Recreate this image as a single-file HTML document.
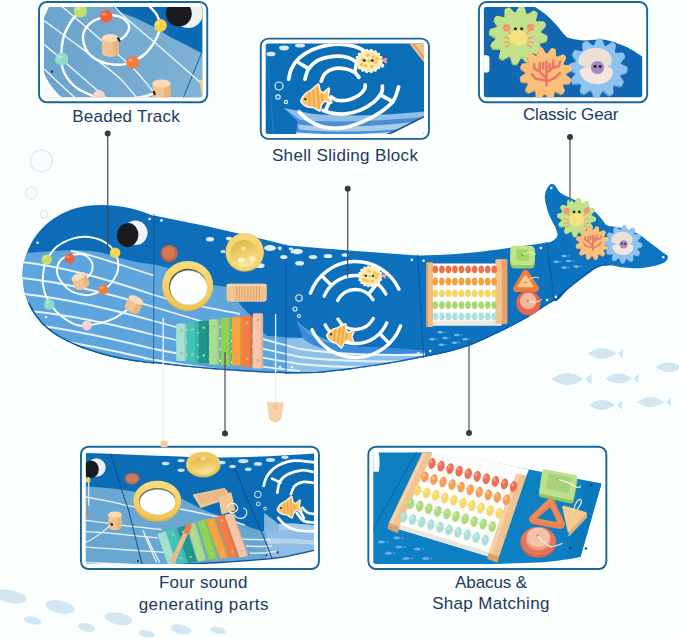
<!DOCTYPE html>
<html><head><meta charset="utf-8"><title>Whale Busy Board</title>
<style>
html,body{margin:0;padding:0;background:#fafefd;}
body{width:679px;height:638px;position:relative;overflow:hidden;font-family:"Liberation Sans",sans-serif;}
svg{position:absolute;left:0;top:0;display:block}
.lbl{position:absolute;color:#22395c;font-size:17px;line-height:22px;text-align:center;white-space:nowrap;transform:translateX(-50%);}
</style></head><body>
<svg width="679" height="638" viewBox="0 0 679 638">
<defs>
<linearGradient id="gbell" x1="0.3" y1="0" x2="0.6" y2="1"><stop offset="0" stop-color="#e0b54c"/><stop offset=".5" stop-color="#eecb66"/><stop offset="1" stop-color="#fcedaa"/></linearGradient>
<linearGradient id="gwhale" gradientUnits="userSpaceOnUse" x1="20" y1="0" x2="670" y2="0"><stop offset="0" stop-color="#0d6bb6"/><stop offset=".45" stop-color="#0e70bd"/><stop offset="1" stop-color="#0c75c1"/></linearGradient>
<linearGradient id="gb1" gradientUnits="userSpaceOnUse" x1="44" y1="0" x2="204" y2="0"><stop offset="0" stop-color="#6ca4cd"/><stop offset="1" stop-color="#7db1d5"/></linearGradient>
<linearGradient id="gring" x1="0" y1="0" x2="0" y2="1"><stop offset="0" stop-color="#f9dd7e"/><stop offset="1" stop-color="#efc552"/></linearGradient>

<clipPath id="cb1"><rect x="44.00" y="6.96" width="158.30" height="90.30" rx="2"/></clipPath>
<clipPath id="cb2"><rect x="265.70" y="43.60" width="158.30" height="90.30" rx="2"/></clipPath>
<clipPath id="cb3"><rect x="483.90" y="6.96" width="158.30" height="90.30" rx="2"/></clipPath>
<clipPath id="cb4"><rect x="85.90" y="451.70" width="228.10" height="112.30" rx="2"/></clipPath>
<clipPath id="cb5"><rect x="373.30" y="451.70" width="228.10" height="112.30" rx="2"/></clipPath>
<clipPath id="cb4body"><path d="M80,453 C130,454 180,457.5 222,457.6 C255,457.3 290,455 320,453 L320,549 C310,551.3 298,554.3 285,556.8 C270,559 250,560.6 220,562.5 L150,566 L80,568 Z"/></clipPath>
<clipPath id="cwhale"><path d="M154.2,216.0 C151.6,215.1 144.2,212.1 138.7,210.5 C133.2,208.9 126.9,207.4 121.0,206.5 C115.1,205.6 109.3,205.0 103.4,204.9 C97.5,204.8 91.6,205.0 85.7,206.0 C79.8,207.0 73.5,208.7 68.0,210.9 C62.5,213.1 57.4,215.9 52.6,219.3 C47.8,222.7 43.0,227.2 39.3,231.4 C35.6,235.6 32.9,240.1 30.5,244.7 C28.1,249.3 26.2,254.5 24.9,259.1 C23.6,263.7 22.9,267.5 22.7,272.3 C22.5,277.1 22.9,282.7 23.8,287.8 C24.7,292.9 26.3,298.4 28.3,303.2 C30.3,308.0 33.1,312.4 36.0,316.5 C38.9,320.6 41.9,324.0 45.9,327.5 C49.9,331.0 55.1,334.6 60.0,337.5 C64.8,340.4 70.3,342.9 75.0,345.0 C79.7,347.1 82.2,348.1 88.0,350.0 C93.8,351.9 103.0,354.8 110.0,356.5 C117.0,358.2 122.7,359.3 130.0,360.5 C137.3,361.7 149.7,363.0 153.6,363.5Z"/><path d="M154,215.5 Q220,228 286,245 L286,373.2 Q222,371.5 153.6,363 Z"/><path d="M286,245.3 Q350,251 417.7,255.4 L423.6,357 C405,361 361,369 317,373 L286,373.4 Z"/><path d="M417.7,255.6 C422.6,255.4 436.3,255.2 447.1,254.5 C457.9,253.8 470.7,252.7 482.5,251.4 C494.3,250.1 507.2,248.1 517.8,246.7 C528.4,245.2 541.4,243.4 546.1,242.7 L550.8,272 L554.2,300.6 C552.4,301.7 547.3,304.7 543.6,307.1 C539.9,309.5 535.7,312.4 531.8,314.8 C527.9,317.2 526.2,318.5 520.0,321.8 C513.8,325.1 502.5,330.7 494.3,334.6 C486.1,338.5 478.6,342.3 470.7,345.2 C462.8,348.1 455.0,350.2 447.1,352.2 C439.2,354.2 427.5,356.2 423.6,357.0Z"/><path d="M546.1,242.7 C547.1,242.5 550.1,242.5 552.0,241.3 C553.9,240.2 556.9,238.2 557.4,235.8 C557.9,233.4 556.7,230.7 555.2,227.0 C553.8,223.3 550.4,218.7 548.7,213.9 C547.0,209.2 545.3,202.5 544.9,198.5 C544.5,194.5 545.5,192.1 546.5,189.7 C547.5,187.3 549.4,185.0 550.8,184.3 C552.2,183.6 553.4,184.1 555.0,185.5 C556.6,186.9 557.6,190.7 560.7,193.0 C563.9,195.3 569.5,197.4 573.9,199.6 C578.3,201.8 583.4,204.0 587.0,206.2 C590.6,208.3 593.3,210.3 595.8,212.5 C598.3,214.7 600.0,217.3 601.9,219.4 C603.8,221.5 604.8,224.0 607.0,225.2 C609.2,226.4 611.8,226.1 615.0,226.7 C618.2,227.3 622.1,227.8 626.0,229.0 C629.9,230.2 634.3,231.7 638.3,234.0 C642.3,236.3 646.1,239.8 650.0,242.7 C653.9,245.6 658.7,249.2 661.6,251.4 C664.5,253.6 666.6,254.3 667.5,255.8 C668.4,257.3 667.7,258.9 666.7,260.2 C665.7,261.5 664.4,262.7 661.6,263.8 C658.8,264.9 653.9,266.1 650.0,266.8 C646.1,267.5 642.7,268.1 638.3,268.2 C633.9,268.3 628.6,268.0 623.7,267.5 C618.9,267.0 613.6,265.3 609.2,265.3 C604.8,265.3 600.9,266.2 597.5,267.5 C594.1,268.8 591.8,271.1 588.7,273.3 C585.6,275.5 582.5,277.8 578.9,280.6 C575.3,283.4 571.2,286.7 567.1,290.0 C563.0,293.3 556.9,303.6 554.2,300.6 C551.5,297.6 551.4,276.8 550.8,272.0Z"/></clipPath>
</defs>
<g id="bgdeco">
<circle cx="41.4" cy="160.9" r="11" fill="#f8fcfe" stroke="#dde9f0" stroke-width="1.2"/>
<ellipse cx="37.5" cy="157.1" rx="3.3" ry="2.2" fill="#fff"/>
<circle cx="31.2" cy="193" r="5.8" fill="#f8fcfe" stroke="#dde9f0" stroke-width="1.2"/>
<ellipse cx="29.2" cy="191.0" rx="1.7" ry="1.2" fill="#fff"/>
<circle cx="44.2" cy="214.7" r="3.8" fill="#f8fcfe" stroke="#dde9f0" stroke-width="1.2"/>
<ellipse cx="42.9" cy="213.4" rx="1.1" ry="0.8" fill="#fff"/>
<path d="M588.0,353.5 Q602.0,342.9 616.0,353.5 Q602.0,364.1 588.0,353.5Z M617.8,353.5 L623.0,348.4 L623.0,358.6Z" fill="#d2e6f0" opacity="1"/>
<path d="M551.5,379.1 Q567.5,366.9 583.5,379.1 Q567.5,391.3 551.5,379.1Z M585.5,379.1 L591.5,373.3 L591.5,384.9Z" fill="#d2e6f0" opacity="1"/>
<path d="M605.5,378.5 Q618.7,368.5 631.9,378.5 Q618.7,388.5 605.5,378.5Z M633.5,378.5 L638.5,373.7 L638.5,383.3Z" fill="#d2e6f0" opacity="1"/>
<path d="M656.0,367.3 Q669.2,357.3 682.4,367.3 Q669.2,377.3 656.0,367.3Z M684.0,367.3 L689.0,362.5 L689.0,372.1Z" fill="#d2e6f0" opacity="1"/>
<path d="M589.0,405.1 Q602.2,395.1 615.4,405.1 Q602.2,415.1 589.0,405.1Z M617.0,405.1 L622.0,400.3 L622.0,409.9Z" fill="#d2e6f0" opacity="1"/>
<path d="M637.0,402.1 Q650.6,391.8 664.2,402.1 Q650.6,412.4 637.0,402.1Z M665.9,402.1 L671.0,397.2 L671.0,407.0Z" fill="#d2e6f0" opacity="1"/>
<ellipse cx="10.6" cy="596.4" rx="16" ry="6.4" fill="#d3e7f2" transform="rotate(12 10.6 596.4)"/>
<ellipse cx="60.1" cy="607" rx="14.8" ry="6.4" fill="#d3e7f2" transform="rotate(12 60.1 607)"/>
<ellipse cx="32.5" cy="620.4" rx="8.8" ry="3.9" fill="#d3e7f2" transform="rotate(12 32.5 620.4)"/>
<ellipse cx="118.4" cy="618.7" rx="14" ry="6" fill="#d3e7f2" transform="rotate(12 118.4 618.7)"/>
<ellipse cx="86.6" cy="627.5" rx="8.8" ry="4.2" fill="#d3e7f2" transform="rotate(12 86.6 627.5)"/>
<ellipse cx="146.7" cy="633.9" rx="7.8" ry="3.5" fill="#d3e7f2" transform="rotate(12 146.7 633.9)"/>
<ellipse cx="181" cy="629.3" rx="10.6" ry="4.6" fill="#d3e7f2" transform="rotate(12 181 629.3)"/>
<ellipse cx="218.1" cy="630.3" rx="7.8" ry="3.5" fill="#d3e7f2" transform="rotate(12 218.1 630.3)"/>
</g>
<g id="whale">
<g clip-path="url(#cwhale)">
<rect x="15" y="175" width="660" height="210" fill="url(#gwhale)"/>
<path d="M15,254 C30,252 48,251.3 70.2,250.2 C80,250 95,251 103.4,252.9 C110,255 125,260 138.7,262.4 L154,264.6 C175,268 195,281 212,285 L228,287 C232,295 240,305 254,319 C258,326 262,333 268,336 L303,338 L297,321 C310,334 330,343 350,346 C380,348 400,348 425,351 L425,395 L15,395 Z" fill="#5ea5de"/>
<path d="M286,339 L303,338 C313,349 341,354 377,355 L425,352.5 L425,395 L286,395Z" fill="#8ec0ea"/>
<path d="M297,321 C304,329 308,333 313,336.6 C322,341 330,343.5 341.4,345.4 C355,347 365,347 376.7,347.2 C395,348 410,349.5 425,351 L425,352.5 L377,355 C341,354 313,349 303,338 Z" fill="#3a8ad6"/>
<path d="M71,251 C91,254 108,261 154,275.6" fill="none" stroke="#eaf3fb" stroke-width="1.8"/>
<path d="M22,262 C60,266 104,278 154,295 C180,303 200,306 240,314" fill="none" stroke="#eaf3fb" stroke-width="1.8"/>
<path d="M22,278 C60,282 104,292 154,307 C200,321 250,336 300,349 C340,355 380,355 425,355" fill="none" stroke="#eaf3fb" stroke-width="1.8"/>
<path d="M24,294 C60,298 104,307 154,321 C200,334 250,346 300,357 C340,362 380,362 425,361" fill="none" stroke="#eaf3fb" stroke-width="1.8"/>
<path d="M30,311 C60,314 104,322 154,335 C200,346 250,356 300,364 C340,368 380,368 425,366" fill="none" stroke="#eaf3fb" stroke-width="1.8"/>
<path d="M42,326 C70,330 110,338 154,349 C200,358 250,366 300,371" fill="none" stroke="#eaf3fb" stroke-width="1.8"/>
<path d="M68,342 C95,347 125,353 154,360 C200,368 250,373 290,375" fill="none" stroke="#eaf3fb" stroke-width="1.8"/>
<path d="M28.3,303.2 C29.6,305.4 33.1,312.4 36.0,316.5 C38.9,320.6 41.9,324.0 45.9,327.5 C49.9,331.0 55.1,334.6 60.0,337.5 C64.8,340.4 70.3,342.9 75.0,345.0 C79.7,347.1 82.2,348.1 88.0,350.0 C93.8,351.9 103.0,354.8 110.0,356.5 C117.0,358.2 122.7,359.3 130.0,360.5 C137.3,361.7 149.7,363.0 153.6,363.5 M153.6,363 Q222,371.5 286,373.2 M286,373.4 L317,373 C361,369 405,361 423.6,357 M423.6,357.0 C427.5,356.2 439.2,354.2 447.1,352.2 C455.0,350.2 462.8,348.1 470.7,345.2 C478.6,342.3 486.1,338.5 494.3,334.6 C502.5,330.7 513.8,325.1 520.0,321.8 C526.2,318.5 527.9,317.2 531.8,314.8 C535.7,312.4 539.9,309.5 543.6,307.1 C547.3,304.7 552.4,301.7 554.2,300.6 M554.2,300.6 C556.4,298.8 563.0,293.3 567.1,290.0 C571.2,286.7 575.3,283.4 578.9,280.6 C582.5,277.8 585.6,275.5 588.7,273.3 C591.8,271.1 594.1,268.8 597.5,267.5 C600.9,266.2 607.2,265.7 609.2,265.3" fill="none" stroke="#0c55a0" stroke-width="2.6"/>
</g>
<path d="M154,214 L153.6,364" stroke="#0b4c96" stroke-width="1" fill="none" opacity=".7"/>
<path d="M286,244 L286,374" stroke="#0b4c96" stroke-width="1" fill="none" opacity=".7"/>
<path d="M417.7,254.5 L423.6,358" stroke="#0b4c96" stroke-width="1" fill="none" opacity=".7"/>
<path d="M546.1,242 L550.8,272 L554,300.5" stroke="#0b4c96" stroke-width="1" fill="none" opacity=".7"/>
<circle cx="37.6" cy="242.7" r="1.3" fill="#e8f2fb"/>
<circle cx="46" cy="317" r="1.3" fill="#e8f2fb"/>
<circle cx="149.6" cy="219" r="1.3" fill="#e8f2fb"/>
<circle cx="145.5" cy="358.4" r="1.3" fill="#e8f2fb"/>
<circle cx="161.5" cy="220.4" r="1.3" fill="#e8f2fb"/>
<circle cx="157.4" cy="360.3" r="1.3" fill="#e8f2fb"/>
<circle cx="280" cy="249" r="1.3" fill="#e8f2fb"/>
<circle cx="280" cy="367" r="1.3" fill="#e8f2fb"/>
<circle cx="292" cy="252" r="1.3" fill="#e8f2fb"/>
<circle cx="292" cy="367" r="1.3" fill="#e8f2fb"/>
<circle cx="411.8" cy="259.9" r="1.3" fill="#e8f2fb"/>
<circle cx="418.4" cy="353.4" r="1.3" fill="#e8f2fb"/>
<circle cx="423.6" cy="260.8" r="1.3" fill="#e8f2fb"/>
<circle cx="430.2" cy="351.1" r="1.3" fill="#e8f2fb"/>
<circle cx="540.9" cy="248.1" r="1.3" fill="#e8f2fb"/>
<circle cx="547.1" cy="300" r="1.3" fill="#e8f2fb"/>
<circle cx="555.9" cy="296.9" r="1.3" fill="#e8f2fb"/>
<circle cx="551.3" cy="188" r="1.3" fill="#e8f2fb"/>
<circle cx="663.2" cy="257.3" r="1.3" fill="#e8f2fb"/>
<circle cx="135.4" cy="232.8" r="12.2" fill="#f1f4f7"/>
<ellipse cx="127.6" cy="235" rx="10.7" ry="12" fill="#1b1a1e" transform="rotate(8 127.6 235)"/>
<path d="M133.9,304.5 C130.5,306.9 121.3,315.1 113.5,318.6 C105.7,322.1 93.7,324.7 86.9,325.5 C80.1,326.3 77.7,325.5 72.7,323.3 C67.7,321.1 61.2,316.2 57.0,312.3 C52.8,308.4 50.0,304.5 47.6,299.8 C45.2,295.1 43.5,289.3 42.9,284.1 C42.3,278.9 43.3,272.5 43.9,268.4 C44.5,264.3 44.5,263.2 46.7,259.6 C48.9,256.0 52.7,250.0 57.0,246.5 C61.3,243.0 67.5,240.2 72.7,238.6 C77.9,237.0 83.2,236.5 88.4,237.0 C93.6,237.5 99.6,239.2 104.1,241.8 C108.5,244.4 112.8,248.3 115.1,252.7 C117.4,257.1 118.7,263.4 118.2,268.4 C117.7,273.4 114.4,278.9 111.9,282.5 C109.4,286.1 107.1,287.6 103.2,289.7 C99.3,291.8 93.5,294.7 88.4,295.1 C83.3,295.5 77.1,294.0 72.7,291.9 C68.3,289.8 64.4,285.9 61.8,282.5 C59.2,279.1 57.3,275.2 57.0,271.6 C56.7,268.0 58.1,263.3 60.2,260.6 C62.3,257.9 65.9,256.6 69.6,255.6 C73.2,254.5 78.5,253.5 82.1,254.3 C85.6,255.1 89.2,258.0 90.9,260.6 C92.6,263.2 92.9,267.1 92.2,270.0 C91.5,272.9 88.7,276.0 86.8,277.8 C84.9,279.6 81.6,280.5 80.6,281.0" fill="none" stroke="#fff" stroke-width="1.9" stroke-linecap="round"/>
<circle cx="46.7" cy="259.6" r="5.3" fill="#c6dc68"/><ellipse cx="45.1" cy="257.7" rx="2.0" ry="1.4" fill="#fff" opacity=".3"/>
<circle cx="69.6" cy="258.5" r="5" fill="#f0613b"/><ellipse cx="68.1" cy="256.8" rx="1.9" ry="1.3" fill="#fff" opacity=".3"/>
<circle cx="115.1" cy="252.7" r="5.3" fill="#f8d24a"/><ellipse cx="113.5" cy="250.8" rx="2.0" ry="1.4" fill="#fff" opacity=".3"/>
<circle cx="103.2" cy="289.7" r="5" fill="#f47b3c"/><ellipse cx="101.7" cy="287.9" rx="1.9" ry="1.3" fill="#fff" opacity=".3"/>
<circle cx="49.2" cy="304.5" r="5.3" fill="#8edcc8"/><ellipse cx="47.6" cy="302.6" rx="2.0" ry="1.4" fill="#fff" opacity=".3"/>
<circle cx="86.9" cy="325.5" r="5" fill="#f8cfcf"/><ellipse cx="85.4" cy="323.8" rx="1.9" ry="1.3" fill="#fff" opacity=".3"/>
<g transform="rotate(-25 80.6 281)"><path d="M73.1,276.0 V286.0 A7.5,3.5 0 0 0 88.1,286.0 V276.0 Z" fill="#f1c391"/><path d="M82.8,276.0 V289.1 A7.5,3.5 0 0 0 88.1,286.0 V276.0 Z" fill="#dba36c" opacity=".45"/><ellipse cx="80.6" cy="276.0" rx="7.5" ry="3.5" fill="#f8dcb8"/></g>
<g transform="rotate(25 134 304.5)"><path d="M126.2,299.5 V309.5 A7.8,3.6 0 0 0 141.8,309.5 V299.5 Z" fill="#f1c391"/><path d="M136.3,299.5 V312.7 A7.8,3.6 0 0 0 141.8,309.5 V299.5 Z" fill="#dba36c" opacity=".45"/><ellipse cx="134.0" cy="299.5" rx="7.8" ry="3.6" fill="#f8dcb8"/></g>
<circle cx="169.3" cy="253.3" r="8.6" fill="#c0643f"/><circle cx="168.8" cy="252.8" r="6.4" fill="#cf7a55"/>
<ellipse cx="187.7" cy="286.2" rx="25.4" ry="24.7" fill="#e6b945"/><ellipse cx="187.7" cy="285.2" rx="25.4" ry="24.2" fill="url(#gring)"/>
<ellipse cx="188" cy="286.6" rx="19" ry="17.8" fill="#5f5a40"/><ellipse cx="188.6" cy="287.6" rx="18.6" ry="17.2" fill="#fdfefe"/>
<ellipse cx="210" cy="239.3" rx="4" ry="2.2" fill="#e1effa"/>
<ellipse cx="229" cy="238.6" rx="3.2" ry="1.8" fill="#e1effa"/>
<ellipse cx="223" cy="251.5" rx="2.6" ry="1.6" fill="#e1effa"/>
<ellipse cx="270" cy="248" rx="6" ry="2.9" fill="#e1effa"/>
<ellipse cx="279.6" cy="248" rx="2" ry="1.4" fill="#e1effa"/>
<ellipse cx="283.8" cy="257" rx="3.6" ry="2" fill="#e1effa"/>
<ellipse cx="259.6" cy="265.7" rx="5" ry="2.4" fill="#e1effa"/>
<ellipse cx="297.3" cy="251.5" rx="5.5" ry="2.7" fill="#e1effa"/>
<ellipse cx="291" cy="249" rx="2.2" ry="1.4" fill="#e1effa"/>
<ellipse cx="299.6" cy="263.3" rx="4.4" ry="2.3" fill="#e1effa"/>
<ellipse cx="313" cy="257" rx="4.2" ry="2.1" fill="#e1effa"/>
<ellipse cx="328" cy="256" rx="4.4" ry="2.1" fill="#e1effa"/>
<ellipse cx="345" cy="255" rx="3.4" ry="1.8" fill="#e1effa"/>
<circle cx="244.7" cy="252.4" r="19.2" fill="#ecc458"/><circle cx="244.7" cy="251.8" r="18.6" fill="#f6d574"/><circle cx="244" cy="253.5" r="13.6" fill="url(#gbell)"/><ellipse cx="241.5" cy="260" rx="3.4" ry="2.6" fill="#fff6c8" opacity=".9"/><ellipse cx="252" cy="259" rx="3" ry="2.4" fill="#fff6c8" opacity=".8"/><circle cx="243.2" cy="248.8" r="2.5" fill="#f7df8c"/>
<rect x="226.5" y="283.8" width="40.3" height="18" rx="3.5" fill="#f1c391"/><rect x="226.5" y="283.8" width="40.3" height="3" rx="1.5" fill="#f8dcb8" opacity=".7"/>
<path d="M236.3,285.5 V300.5" stroke="#dba36c" stroke-width="1"/>
<path d="M239.2,285.5 V300.5" stroke="#dba36c" stroke-width="1"/>
<path d="M242.1,285.5 V300.5" stroke="#dba36c" stroke-width="1"/>
<path d="M245.0,285.5 V300.5" stroke="#dba36c" stroke-width="1"/>
<path d="M247.9,285.5 V300.5" stroke="#dba36c" stroke-width="1"/>
<path d="M250.8,285.5 V300.5" stroke="#dba36c" stroke-width="1"/>
<path d="M253.7,285.5 V300.5" stroke="#dba36c" stroke-width="1"/>
<path d="M256.6,285.5 V300.5" stroke="#dba36c" stroke-width="1"/>
<path d="M259.5,285.5 V300.5" stroke="#dba36c" stroke-width="1"/>
<rect x="176.2" y="323.6" width="10.3" height="37.4" rx="1.5" fill="#a4e2d0"/>
<rect x="184.3" y="323.6" width="2.2" height="37.4" rx="1" fill="#000" opacity=".09"/>
<circle cx="181.3" cy="330.6" r="1.4" fill="#c2b39c"/><circle cx="181.3" cy="353.0" r="1.4" fill="#c2b39c"/>
<rect x="187.2" y="322.2" width="10.3" height="40.2" rx="1.5" fill="#3cc6b6"/>
<rect x="195.3" y="322.2" width="2.2" height="40.2" rx="1" fill="#000" opacity=".09"/>
<circle cx="192.3" cy="329.2" r="1.4" fill="#c2b39c"/><circle cx="192.3" cy="354.4" r="1.4" fill="#c2b39c"/>
<rect x="198.5" y="320.7" width="10.3" height="42.6" rx="1.5" fill="#1b9a8b"/>
<rect x="206.60000000000002" y="320.7" width="2.2" height="42.6" rx="1" fill="#000" opacity=".09"/>
<circle cx="203.7" cy="327.7" r="1.4" fill="#c2b39c"/><circle cx="203.7" cy="355.3" r="1.4" fill="#c2b39c"/>
<rect x="209.3" y="319.2" width="10.3" height="45.3" rx="1.5" fill="#a7dd8f"/>
<rect x="217.40000000000003" y="319.2" width="2.2" height="45.3" rx="1" fill="#000" opacity=".09"/>
<circle cx="214.5" cy="326.2" r="1.4" fill="#c2b39c"/><circle cx="214.5" cy="356.5" r="1.4" fill="#c2b39c"/>
<rect x="220.9" y="317.7" width="10.3" height="47.7" rx="1.5" fill="#8fd250"/>
<rect x="229.00000000000003" y="317.7" width="2.2" height="47.7" rx="1" fill="#000" opacity=".09"/>
<circle cx="226.1" cy="324.7" r="1.4" fill="#c2b39c"/><circle cx="226.1" cy="357.4" r="1.4" fill="#c2b39c"/>
<rect x="232" y="316.8" width="10.3" height="48.6" rx="1.5" fill="#f8a33c"/>
<rect x="240.10000000000002" y="316.8" width="2.2" height="48.6" rx="1" fill="#000" opacity=".09"/>
<circle cx="237.2" cy="323.8" r="1.4" fill="#c2b39c"/><circle cx="237.2" cy="357.4" r="1.4" fill="#c2b39c"/>
<rect x="242" y="315.6" width="10.3" height="51.3" rx="1.5" fill="#f57c45"/>
<rect x="250.10000000000002" y="315.6" width="2.2" height="51.3" rx="1" fill="#000" opacity=".09"/>
<circle cx="247.2" cy="322.6" r="1.4" fill="#c2b39c"/><circle cx="247.2" cy="358.9" r="1.4" fill="#c2b39c"/>
<rect x="252.8" y="313.2" width="10.3" height="55.2" rx="1.5" fill="#f8c6a6"/>
<rect x="260.90000000000003" y="313.2" width="2.2" height="55.2" rx="1" fill="#000" opacity=".09"/>
<circle cx="257.9" cy="320.2" r="1.4" fill="#c2b39c"/><circle cx="257.9" cy="360.4" r="1.4" fill="#c2b39c"/>
<circle cx="299" cy="298" r="3.2" fill="none" stroke="#e6f1fb" stroke-width="1.1"/>
<circle cx="295" cy="309" r="2" fill="none" stroke="#e6f1fb" stroke-width="1.1"/>
<circle cx="299" cy="316" r="1.5" fill="none" stroke="#e6f1fb" stroke-width="1.1"/>
<g fill="none" stroke="#fff" stroke-width="3.4" stroke-linecap="round" ><path d="M310.4,293.1 A48.0,48.0 0 0 1 399.0,289.2 M324.2,296.2 A34.0,34.0 0 0 1 385.8,294.1 M337.7,300.4 A20.0,20.0 0 0 1 373.0,299.8 M331.5,285.5 L321.6,275.6 M368.4,294.2 L377.4,283.5"/><path d="M310.4,293.1 A48.0,48.0 0 0 1 399.0,289.2 M324.2,296.2 A34.0,34.0 0 0 1 385.8,294.1 M337.7,300.4 A20.0,20.0 0 0 1 373.0,299.8 M331.5,285.5 L321.6,275.6 M368.4,294.2 L377.4,283.5" transform="rotate(180 355.5 309.5)"/></g>
<g transform="translate(370.2,276.4) scale(1.05,0.92)"><polygon points="9.9,-1.2 11.3,-0.4 11.3,0.4 9.9,1.2 9.7,2.2 10.7,3.5 10.5,4.2 8.8,4.5 8.4,5.4 8.9,7.0 8.4,7.5 6.8,7.3 6.0,7.9 6.0,9.6 5.3,10.0 3.9,9.2 2.9,9.5 2.3,11.1 1.6,11.2 0.5,9.9 -0.5,9.9 -1.6,11.2 -2.3,11.1 -2.9,9.5 -3.9,9.2 -5.3,10.0 -6.0,9.6 -6.0,7.9 -6.8,7.3 -8.4,7.5 -8.9,7.0 -8.4,5.4 -8.8,4.5 -10.5,4.2 -10.7,3.5 -9.7,2.2 -9.9,1.2 -11.3,0.4 -11.3,-0.4 -9.9,-1.2 -9.7,-2.2 -10.7,-3.5 -10.5,-4.2 -8.8,-4.5 -8.4,-5.4 -8.9,-7.0 -8.4,-7.5 -6.8,-7.3 -6.0,-7.9 -6.0,-9.6 -5.3,-10.0 -3.9,-9.2 -2.9,-9.5 -2.3,-11.1 -1.6,-11.2 -0.5,-9.9 0.5,-9.9 1.6,-11.2 2.3,-11.1 2.9,-9.5 3.9,-9.2 5.3,-10.0 6.0,-9.6 6.0,-7.9 6.8,-7.3 8.4,-7.5 8.9,-7.0 8.4,-5.4 8.8,-4.5 10.5,-4.2 10.7,-3.5 9.7,-2.2" fill="#fdf6dc" stroke="#fdf6dc" stroke-width="1.4" stroke-linejoin="round" /><path d="M9.6,-2 L15.3,-3.5 L14.7,3 Z" fill="#f3a08c"/><circle cx="0" cy="0" r="9.9" fill="#fcecb4"/><circle cx="-1.1" cy="-5.7" r="1.7" fill="#f6c34f"/><circle cx="4.0" cy="-4.0" r="1.7" fill="#f6c34f"/><circle cx="5.7" cy="1.1" r="1.7" fill="#f6c34f"/><circle cx="-5.1" cy="-1.1" r="1.7" fill="#f6c34f"/><circle cx="2.3" cy="5.1" r="1.7" fill="#f6c34f"/><circle cx="-2.8" cy="4.5" r="1.7" fill="#f6c34f"/><circle cx="0.0" cy="0.0" r="1.7" fill="#f6c34f"/><circle cx="6.8" cy="-2.3" r="1.7" fill="#f6c34f"/><circle cx="-6.2" cy="3.4" r="1.7" fill="#f6c34f"/><circle cx="-4.0" cy="-0.6" r="1.2" fill="#2a2a2a"/><circle cx="2.8" cy="-0.6" r="1.2" fill="#2a2a2a"/></g>
<g transform="translate(340.3,335.5) rotate(5) scale(1.0)"><path d="M-13,1 C-11,-3 -7,-6 -3,-7 L4,-11.5 L4.5,-5.5 C6,-4.5 7,-3.5 7.5,-2.5 L13,-6.5 L11,0.2 L13.5,6 L7.5,3 C6.5,4.5 5.5,5.5 4,6.5 L2,11.5 L-3,7.5 C-8,7 -11.5,4.5 -13,1 Z" fill="#fdf7ea" stroke="#fdf7ea" stroke-width="2.8" stroke-linejoin="round"/><path d="M-13,1 C-11,-3 -7,-6 -3,-7 L4,-11.5 L4.5,-5.5 C6,-4.5 7,-3.5 7.5,-2.5 L13,-6.5 L11,0.2 L13.5,6 L7.5,3 C6.5,4.5 5.5,5.5 4,6.5 L2,11.5 L-3,7.5 C-8,7 -11.5,4.5 -13,1 Z" fill="#f9c46c"/><path d="M-5,-6 L-6,6.5 M-1,-8 L-2,8 M3,-10 L2,10 M6.5,-3 L6,3.5" stroke="#f2a23c" stroke-width="1.5" fill="none"/><circle cx="-9.3" cy="-0.3" r="1.1" fill="#2a2a2a"/></g>
<rect x="432" y="263.5" width="69.5" height="62" rx="1" fill="#fdfdfb"/><rect x="432" y="321" width="69.5" height="4.5" fill="#ece9e2"/>
<rect x="426.4" y="262.2" width="6.6" height="64.8" rx="1" fill="#f3bb7e"/><rect x="426.4" y="262.2" width="1.6" height="64.8" rx="0.8" fill="#e59c5e"/>
<rect x="495.4" y="259.2" width="11.8" height="64.5" rx="1" fill="#f5c48c"/><rect x="501.8" y="259.2" width="5.4" height="64.5" rx="1" fill="#e8a266"/>
<path d="M433,269.3 H496" stroke="#d9d6cf" stroke-width="0.8"/>
<ellipse cx="435.3" cy="269.3" rx="2.75" ry="3.9" fill="#ee6f4a"/>
<ellipse cx="441.9" cy="269.3" rx="2.75" ry="3.9" fill="#ee6f4a"/>
<ellipse cx="448.4" cy="269.3" rx="2.75" ry="3.9" fill="#ee6f4a"/>
<ellipse cx="454.9" cy="269.3" rx="2.75" ry="3.9" fill="#ee6f4a"/>
<ellipse cx="461.5" cy="269.3" rx="2.75" ry="3.9" fill="#ee6f4a"/>
<ellipse cx="468.1" cy="269.3" rx="2.75" ry="3.9" fill="#ee6f4a"/>
<ellipse cx="474.6" cy="269.3" rx="2.75" ry="3.9" fill="#ee6f4a"/>
<ellipse cx="481.2" cy="269.3" rx="2.75" ry="3.9" fill="#ee6f4a"/>
<ellipse cx="487.7" cy="269.3" rx="2.75" ry="3.9" fill="#ee6f4a"/>
<ellipse cx="494.2" cy="269.3" rx="2.75" ry="3.9" fill="#ee6f4a"/>
<path d="M433,281.5 H496" stroke="#d9d6cf" stroke-width="0.8"/>
<ellipse cx="435.3" cy="281.5" rx="2.75" ry="3.9" fill="#f6a03d"/>
<ellipse cx="441.9" cy="281.5" rx="2.75" ry="3.9" fill="#f6a03d"/>
<ellipse cx="448.4" cy="281.5" rx="2.75" ry="3.9" fill="#f6a03d"/>
<ellipse cx="454.9" cy="281.5" rx="2.75" ry="3.9" fill="#f6a03d"/>
<ellipse cx="461.5" cy="281.5" rx="2.75" ry="3.9" fill="#f6a03d"/>
<ellipse cx="468.1" cy="281.5" rx="2.75" ry="3.9" fill="#f6a03d"/>
<ellipse cx="474.6" cy="281.5" rx="2.75" ry="3.9" fill="#f6a03d"/>
<ellipse cx="481.2" cy="281.5" rx="2.75" ry="3.9" fill="#f6a03d"/>
<ellipse cx="487.7" cy="281.5" rx="2.75" ry="3.9" fill="#f6a03d"/>
<ellipse cx="494.2" cy="281.5" rx="2.75" ry="3.9" fill="#f6a03d"/>
<path d="M433,293.3 H496" stroke="#d9d6cf" stroke-width="0.8"/>
<ellipse cx="435.3" cy="293.3" rx="2.75" ry="3.9" fill="#f5d661"/>
<ellipse cx="441.9" cy="293.3" rx="2.75" ry="3.9" fill="#f5d661"/>
<ellipse cx="448.4" cy="293.3" rx="2.75" ry="3.9" fill="#f5d661"/>
<ellipse cx="454.9" cy="293.3" rx="2.75" ry="3.9" fill="#f5d661"/>
<ellipse cx="461.5" cy="293.3" rx="2.75" ry="3.9" fill="#f5d661"/>
<ellipse cx="468.1" cy="293.3" rx="2.75" ry="3.9" fill="#f5d661"/>
<ellipse cx="474.6" cy="293.3" rx="2.75" ry="3.9" fill="#f5d661"/>
<ellipse cx="481.2" cy="293.3" rx="2.75" ry="3.9" fill="#f5d661"/>
<ellipse cx="487.7" cy="293.3" rx="2.75" ry="3.9" fill="#f5d661"/>
<ellipse cx="494.2" cy="293.3" rx="2.75" ry="3.9" fill="#f5d661"/>
<path d="M433,305.1 H496" stroke="#d9d6cf" stroke-width="0.8"/>
<ellipse cx="435.3" cy="305.1" rx="2.75" ry="3.9" fill="#a5d86d"/>
<ellipse cx="441.9" cy="305.1" rx="2.75" ry="3.9" fill="#a5d86d"/>
<ellipse cx="448.4" cy="305.1" rx="2.75" ry="3.9" fill="#a5d86d"/>
<ellipse cx="454.9" cy="305.1" rx="2.75" ry="3.9" fill="#a5d86d"/>
<ellipse cx="461.5" cy="305.1" rx="2.75" ry="3.9" fill="#a5d86d"/>
<ellipse cx="468.1" cy="305.1" rx="2.75" ry="3.9" fill="#a5d86d"/>
<ellipse cx="474.6" cy="305.1" rx="2.75" ry="3.9" fill="#a5d86d"/>
<ellipse cx="481.2" cy="305.1" rx="2.75" ry="3.9" fill="#a5d86d"/>
<ellipse cx="487.7" cy="305.1" rx="2.75" ry="3.9" fill="#a5d86d"/>
<ellipse cx="494.2" cy="305.1" rx="2.75" ry="3.9" fill="#a5d86d"/>
<path d="M433,316.4 H496" stroke="#d9d6cf" stroke-width="0.8"/>
<ellipse cx="435.3" cy="316.4" rx="2.75" ry="3.9" fill="#a9e1dc"/>
<ellipse cx="441.9" cy="316.4" rx="2.75" ry="3.9" fill="#a9e1dc"/>
<ellipse cx="448.4" cy="316.4" rx="2.75" ry="3.9" fill="#a9e1dc"/>
<ellipse cx="454.9" cy="316.4" rx="2.75" ry="3.9" fill="#a9e1dc"/>
<ellipse cx="461.5" cy="316.4" rx="2.75" ry="3.9" fill="#a9e1dc"/>
<ellipse cx="468.1" cy="316.4" rx="2.75" ry="3.9" fill="#a9e1dc"/>
<ellipse cx="474.6" cy="316.4" rx="2.75" ry="3.9" fill="#a9e1dc"/>
<ellipse cx="481.2" cy="316.4" rx="2.75" ry="3.9" fill="#a9e1dc"/>
<ellipse cx="487.7" cy="316.4" rx="2.75" ry="3.9" fill="#a9e1dc"/>
<ellipse cx="494.2" cy="316.4" rx="2.75" ry="3.9" fill="#a9e1dc"/>
<rect x="510.3" y="248.5" width="24.5" height="20" rx="4.5" fill="#96c95e"/><rect x="510.3" y="245.7" width="24.5" height="19.5" rx="4.5" fill="#bfe486"/><rect x="516.5" y="249.6" width="12.5" height="11" rx="2" fill="#a2d468"/><circle cx="522.6" cy="255" r="1.1" fill="#5b7d3a"/>
<path d="M525.5,273.5 L535.5,288.5 L516.6,288.5 Z" fill="#ee7c41" stroke="#ee7c41" stroke-width="7" stroke-linejoin="round"/><path d="M525.5,276.5 L532,286 L519,286 Z" fill="#f7ca8c" stroke="#f7ca8c" stroke-width="2.5" stroke-linejoin="round"/><circle cx="525.6" cy="282.3" r="1" fill="#8a5a3a"/>
<circle cx="528.4" cy="303" r="12.2" fill="#e8664a"/><circle cx="528.2" cy="301" r="8.3" fill="#f6b89c"/><circle cx="528.2" cy="301" r="1.1" fill="#8a5a3a"/>
<path d="M522.6,255 C528,251 533,252 536,254.5 M525.6,282.3 C531,277 536,276.5 539,278 M528.2,301 C534,303 539,302 542,299" fill="none" stroke="#f6f1e8" stroke-width="1"/>
<path d="M436.9,332.2 Q440.3,329.6 443.8,332.2 Q440.3,334.8 436.9,332.2Z M444.2,332.2 L445.4,331.0 L445.4,333.4Z" fill="#6fbcf0" opacity="1"/>
<path d="M428.8,339.3 Q432.1,336.7 435.6,339.3 Q432.1,341.9 428.8,339.3Z M436.0,339.3 L437.2,338.1 L437.2,340.5Z" fill="#6fbcf0" opacity="1"/>
<path d="M441.8,338.1 Q445.1,335.5 448.6,338.1 Q445.1,340.7 441.8,338.1Z M449.0,338.1 L450.2,336.9 L450.2,339.3Z" fill="#6fbcf0" opacity="1"/>
<path d="M453.4,335.0 Q456.8,332.4 460.2,335.0 Q456.8,337.6 453.4,335.0Z M460.7,335.0 L461.9,333.8 L461.9,336.2Z" fill="#6fbcf0" opacity="1"/>
<path d="M461.8,339.3 Q465.1,336.7 468.6,339.3 Q465.1,341.9 461.8,339.3Z M469.0,339.3 L470.2,338.1 L470.2,340.5Z" fill="#6fbcf0" opacity="1"/>
<path d="M451.1,342.8 Q454.5,340.2 457.9,342.8 Q454.5,345.4 451.1,342.8Z M458.4,342.8 L459.6,341.6 L459.6,344.0Z" fill="#6fbcf0" opacity="1"/>
<path d="M438.1,344.7 Q441.5,342.1 444.9,344.7 Q441.5,347.3 438.1,344.7Z M445.4,344.7 L446.6,343.5 L446.6,345.9Z" fill="#6fbcf0" opacity="1"/>
<path d="M560.9,256.0 Q564.2,253.4 567.6,256.0 Q564.2,258.6 560.9,256.0Z M568.1,256.0 L569.4,254.8 L569.4,257.2Z" fill="#6fbcf0" opacity="1"/>
<path d="M553.1,261.7 Q556.5,259.1 559.9,261.7 Q556.5,264.3 553.1,261.7Z M560.4,261.7 L561.6,260.5 L561.6,262.9Z" fill="#6fbcf0" opacity="1"/>
<path d="M565.2,261.0 Q568.6,258.4 572.0,261.0 Q568.6,263.6 565.2,261.0Z M572.5,261.0 L573.8,259.8 L573.8,262.2Z" fill="#6fbcf0" opacity="1"/>
<path d="M573.0,266.6 Q576.4,264.0 579.8,266.6 Q576.4,269.2 573.0,266.6Z M580.2,266.6 L581.5,265.4 L581.5,267.8Z" fill="#6fbcf0" opacity="1"/>
<path d="M560.9,267.6 Q564.2,265.0 567.6,267.6 Q564.2,270.2 560.9,267.6Z M568.1,267.6 L569.4,266.4 L569.4,268.8Z" fill="#6fbcf0" opacity="1"/>
<polygon points="590.4,216.8 594.8,219.0 594.6,220.7 589.9,222.0 589.2,223.9 591.8,228.0 590.8,229.4 586.1,228.2 584.5,229.5 584.8,234.3 583.2,235.0 579.8,231.6 577.7,231.9 575.5,236.3 573.8,236.1 572.5,231.4 570.6,230.7 566.5,233.3 565.1,232.3 566.3,227.6 565.0,226.0 560.2,226.3 559.5,224.7 562.9,221.3 562.6,219.2 558.2,217.0 558.4,215.3 563.1,214.0 563.8,212.1 561.2,208.0 562.2,206.6 566.9,207.8 568.5,206.5 568.2,201.7 569.8,201.0 573.2,204.4 575.3,204.1 577.5,199.7 579.2,199.9 580.5,204.6 582.4,205.3 586.5,202.7 587.9,203.7 586.7,208.4 588.0,210.0 592.8,209.7 593.5,211.3 590.1,214.7" fill="#9dc46c" stroke="#9dc46c" stroke-width="2.2" stroke-linejoin="round" />
<polygon points="590.6,216.0 595.0,218.2 594.8,219.9 590.1,221.2 589.4,223.1 592.0,227.2 591.0,228.6 586.3,227.4 584.7,228.7 585.0,233.5 583.4,234.2 580.0,230.8 577.9,231.1 575.7,235.5 574.0,235.3 572.7,230.6 570.8,229.9 566.7,232.5 565.3,231.5 566.5,226.8 565.2,225.2 560.4,225.5 559.7,223.9 563.1,220.5 562.8,218.4 558.4,216.2 558.6,214.5 563.3,213.2 564.0,211.3 561.4,207.2 562.4,205.8 567.1,207.0 568.7,205.7 568.4,200.9 570.0,200.2 573.4,203.6 575.5,203.3 577.7,198.9 579.4,199.1 580.7,203.8 582.6,204.5 586.7,201.9 588.1,202.9 586.9,207.6 588.2,209.2 593.0,208.9 593.7,210.5 590.3,213.9" fill="#c3e08a" stroke="#c3e08a" stroke-width="2.2" stroke-linejoin="round" />
<g transform="translate(576.7,217.6) scale(0.88)"><ellipse cx="0" cy="2" rx="9" ry="7.5" fill="#f5e27e"/><circle cx="-11.5" cy="-7.5" r="3.6" fill="#f19a72"/><circle cx="11.5" cy="-8" r="3.6" fill="#f19a72"/><path d="M-8,-2 C-10,-4 -11,-5 -11,-7 M8,-2 C10,-4 11,-5 11,-7 M-9,3 L-14,1 M-9,6 L-14,6.5 M-8,8.5 L-12,11 M9,3 L14,1 M9,6 L14,6.5 M8,8.5 L12,11" stroke="#f19a72" stroke-width="1.3" fill="none" stroke-linecap="round"/><circle cx="-3" cy="-6.5" r="1.5" fill="#222"/><circle cx="3" cy="-6.5" r="1.5" fill="#222"/></g>
<polygon points="604.3,244.8 607.9,247.5 607.4,248.9 603.0,249.1 602.1,250.6 603.8,254.7 602.7,255.7 598.8,253.7 597.2,254.5 596.7,258.9 595.2,259.3 592.8,255.5 591.1,255.4 588.4,259.0 587.0,258.5 586.8,254.1 585.3,253.2 581.2,254.9 580.2,253.8 582.2,249.9 581.4,248.3 577.0,247.8 576.6,246.3 580.4,243.9 580.5,242.2 576.9,239.5 577.4,238.1 581.8,237.9 582.7,236.4 581.0,232.3 582.1,231.3 586.0,233.3 587.6,232.5 588.1,228.1 589.6,227.7 592.0,231.5 593.7,231.6 596.4,228.0 597.8,228.5 598.0,232.9 599.5,233.8 603.6,232.1 604.6,233.2 602.6,237.1 603.4,238.7 607.8,239.2 608.2,240.7 604.4,243.1" fill="#e9a45c" stroke="#e9a45c" stroke-width="1.9" stroke-linejoin="round" />
<polygon points="604.5,243.9 608.1,246.6 607.6,248.0 603.2,248.2 602.3,249.7 604.0,253.8 602.9,254.8 599.0,252.8 597.4,253.6 596.9,258.0 595.4,258.4 593.0,254.6 591.3,254.5 588.6,258.1 587.2,257.6 587.0,253.2 585.5,252.3 581.4,254.0 580.4,252.9 582.4,249.0 581.6,247.4 577.2,246.9 576.8,245.4 580.6,243.0 580.7,241.3 577.1,238.6 577.6,237.2 582.0,237.0 582.9,235.5 581.2,231.4 582.3,230.4 586.2,232.4 587.8,231.6 588.3,227.2 589.8,226.8 592.2,230.6 593.9,230.7 596.6,227.1 598.0,227.6 598.2,232.0 599.7,232.9 603.8,231.2 604.8,232.3 602.8,236.2 603.6,237.8 608.0,238.3 608.4,239.8 604.6,242.2" fill="#f9c07c" stroke="#f9c07c" stroke-width="1.9" stroke-linejoin="round" />
<g transform="translate(592.8,242.6) scale(0.7)" fill="none" stroke="#e9786a" stroke-width="2.3" stroke-linecap="round" stroke-linejoin="round"><path d="M0,11 L0,-10 M0,5 L-6,-1 L-6,-9 M-6,-1 L-11,-4 L-11,-8 M0,0 L6,-5 L6,-11 M6,-5 L11,-6 L12,-10 M0,7 L-10,5 L-13,1 M0,8 L8,4 L12,0 M-3,-4 L-3,-9 M3,-2 L3,-8"/></g>
<polygon points="636.8,243.1 641.1,245.1 641.0,246.7 636.5,248.2 635.9,250.1 638.7,253.9 637.8,255.4 633.1,254.4 631.7,255.7 632.2,260.4 630.7,261.2 627.1,258.1 625.2,258.5 623.2,262.8 621.6,262.7 620.1,258.2 618.2,257.6 614.4,260.4 612.9,259.5 613.9,254.8 612.6,253.4 607.9,253.9 607.1,252.4 610.2,248.8 609.8,246.9 605.5,244.9 605.6,243.3 610.1,241.8 610.7,239.9 607.9,236.1 608.8,234.6 613.5,235.6 614.9,234.3 614.4,229.6 615.9,228.8 619.5,231.9 621.4,231.5 623.4,227.2 625.0,227.3 626.5,231.8 628.4,232.4 632.2,229.6 633.7,230.5 632.7,235.2 634.0,236.6 638.7,236.1 639.5,237.6 636.4,241.2" fill="#6ba6de" stroke="#6ba6de" stroke-width="2.1" stroke-linejoin="round" />
<polygon points="637.0,242.1 641.3,244.1 641.2,245.7 636.7,247.2 636.1,249.1 638.9,252.9 638.0,254.4 633.3,253.4 631.9,254.7 632.4,259.4 630.9,260.2 627.3,257.1 625.4,257.5 623.4,261.8 621.8,261.7 620.3,257.2 618.4,256.6 614.6,259.4 613.1,258.5 614.1,253.8 612.8,252.4 608.1,252.9 607.3,251.4 610.4,247.8 610.0,245.9 605.7,243.9 605.8,242.3 610.3,240.8 610.9,238.9 608.1,235.1 609.0,233.6 613.7,234.6 615.1,233.3 614.6,228.6 616.1,227.8 619.7,230.9 621.6,230.5 623.6,226.2 625.2,226.3 626.7,230.8 628.6,231.4 632.4,228.6 633.9,229.5 632.9,234.2 634.2,235.6 638.9,235.1 639.7,236.6 636.6,240.2" fill="#8fc3ef" stroke="#8fc3ef" stroke-width="2.1" stroke-linejoin="round" />
<g transform="translate(622.6,243.4) scale(0.95)"><path d="M-12,-2 C-12,-10 -4,-13 2,-12 C9,-11 12,-5 10,-1 C6,3 -6,3 -12,-2Z" fill="#ece0d6"/><path d="M-11,3 C-10,10 -3,13 3,12 C9,11 12,7 11,2 C6,-1 -6,-1 -11,3Z" fill="#f5e5da"/><circle cx="1" cy="1" r="4.4" fill="#a58ac2"/><circle cx="-0.6" cy="0.2" r="1" fill="#222"/><circle cx="2.8" cy="0.4" r="1" fill="#222"/></g>
</g>
<path d="M163.2,318 V365" stroke="#f4f6f8" stroke-width="1.3"/><path d="M163.2,365 V441" stroke="#f3e9de" stroke-width="1.1"/>
<path d="M275.6,314 V373" stroke="#f4f6f8" stroke-width="1.3"/><path d="M275.6,373 V403" stroke="#f3e9de" stroke-width="1.1"/>
<path d="M267,402.6 Q275.2,401.4 283.5,402.6 L281.3,418.5 Q275.3,426.5 269.2,418.5 Z" fill="#f6d2a6"/><circle cx="275.2" cy="407.2" r="1.6" fill="none" stroke="#d9a878" stroke-width="0.8"/>
<path d="M107.7,133.5 V249" stroke="#4a4a4e" stroke-width="1.2"/><circle cx="107.7" cy="133.5" r="3" fill="#3a3a3e"/>
<path d="M347.7,188.7 V277.5" stroke="#4a4a4e" stroke-width="1.2"/><circle cx="347.7" cy="188.7" r="3" fill="#3a3a3e"/>
<path d="M570,137 V202" stroke="#4a4a4e" stroke-width="1.2"/><circle cx="570" cy="137" r="3" fill="#3a3a3e"/>
<path d="M225,352 V433.4" stroke="#4a4a4e" stroke-width="1.2"/><circle cx="225" cy="433.4" r="3" fill="#3a3a3e"/>
<path d="M469,340.5 V433" stroke="#4a4a4e" stroke-width="1.2"/><circle cx="469" cy="433" r="3" fill="#3a3a3e"/>
<rect x="39.05" y="2.01" width="168.20" height="100.20" rx="7.6" fill="#fdfefe" stroke="#1b6697" stroke-width="1.9"/>
<g clip-path="url(#cb1)">
<rect x="38.1" y="1.06" width="170.1" height="102.1" fill="url(#gb1)"/>
<path d="M104,0 L118,11.5 L135.6,18 L154.8,27.6 L170.8,37.2 L186.8,45.2 L202,53.5 L212,56 L212,0 Z" fill="#0c6ab4"/>
<path d="M201.5,53.2 L183.6,97 L181,104 L212,104 L212,56 Z" fill="#80b4d7"/><path d="M201.5,53.2 L182,101" stroke="#1a4f86" stroke-width="0.9"/>
<path d="M42,5 L49.8,5 L43.7,18.5 L43.7,62 L42,62Z" fill="#fcfefe"/>
<path d="M38,62 L43.6,71 C46,80 54,91 63.3,98.8 L71,104 L38,104 Z" fill="#f6fbfe"/>
<path d="M110.0,2.0 C112.9,4.9 119.6,12.4 127.6,19.6 C135.6,26.8 146.3,35.1 158.0,45.2 C169.7,55.3 189.0,72.5 198.0,80.4 C207.0,88.3 209.7,90.5 212.0,92.5" fill="none" stroke="#eef6fc" stroke-width="1.4"/>
<path d="M56.0,1.0 C57.3,2.2 56.2,1.4 63.8,8.0 C71.4,14.6 92.6,32.6 101.6,40.4 C110.6,48.1 112.1,49.2 118.0,54.5 C123.9,59.8 131.3,66.2 137.2,72.4 C143.1,78.6 148.6,86.3 153.2,91.6 C157.8,96.9 163.0,101.9 165.0,104.0" fill="none" stroke="#eef6fc" stroke-width="1.4"/>
<path d="M38.0,16.0 C39.0,16.8 36.7,15.2 44.0,20.6 C51.3,26.0 69.4,39.0 81.7,48.4 C94.0,57.8 109.0,68.7 118.0,76.7 C127.0,84.7 131.4,91.9 135.6,96.4 C139.8,101.0 141.8,102.7 143.0,104.0" fill="none" stroke="#eef6fc" stroke-width="1.4"/>
<path d="M38.0,39.0 C39.0,39.9 40.9,41.7 44.0,44.4 C47.1,47.1 48.9,48.4 56.6,55.0 C64.3,61.6 80.6,75.8 90.0,84.0 C99.4,92.2 109.2,100.7 113.0,104.0" fill="none" stroke="#eef6fc" stroke-width="1.4"/>
<path d="M38.0,63.0 C41.7,66.5 52.7,77.2 60.0,84.0 C67.3,90.8 78.3,100.7 82.0,104.0" fill="none" stroke="#eef6fc" stroke-width="1.4"/>
<circle cx="188.3" cy="13.5" r="14.6" fill="#eef1f4"/><circle cx="178.8" cy="13.6" r="13" fill="#1b1a1e"/>
<path d="M199.5,80 L212,78 L212,97 L202,97Z" fill="#f5d46a"/>
<path d="M86.0,3.0 C85.0,4.4 82.3,8.3 79.8,11.4 C77.3,14.5 73.7,17.1 70.9,21.5 C68.2,25.9 64.9,31.8 63.3,38.0 C61.7,44.2 61.1,52.9 61.3,58.8 C61.5,64.7 62.1,68.7 64.6,73.5 C67.0,78.3 71.3,83.7 76.0,87.4 C80.7,91.1 88.7,94.2 92.5,95.7 C96.3,97.2 95.2,95.6 98.8,96.3 C102.4,97.0 107.2,99.8 114.0,100.0 C120.8,100.2 132.8,98.5 139.3,97.5 C145.8,96.5 149.6,95.2 153.2,93.7 C156.8,92.2 159.5,89.5 160.8,88.7" fill="none" stroke="#fff" stroke-width="2.4" stroke-linecap="round"/>
<path d="M119.0,40.5 C120.1,39.7 123.7,37.8 125.4,35.5 C127.1,33.2 129.6,29.5 129.2,26.6 C128.8,23.7 125.7,20.1 122.9,18.2 C120.2,16.3 115.5,15.5 112.7,15.2 C110.0,14.9 109.8,15.4 106.4,16.5 C103.0,17.6 96.3,18.8 92.5,21.5 C88.7,24.2 84.9,28.7 83.6,32.9 C82.3,37.1 83.4,42.9 84.9,46.9 C86.4,50.9 88.9,54.3 92.5,57.0 C96.1,59.7 101.6,62.0 106.4,63.3 C111.2,64.6 117.3,64.9 121.6,64.6 C125.9,64.3 128.4,63.2 132.2,61.5 C136.0,59.8 140.7,57.8 144.4,54.5 C148.1,51.2 152.0,45.8 154.5,41.8 C157.0,37.8 158.7,33.1 159.6,30.4 C160.5,27.6 160.5,27.8 160.1,25.3 C159.7,22.8 158.6,18.1 157.0,15.2 C155.4,12.2 152.7,9.8 150.7,7.6 C148.7,5.4 145.9,2.9 145.0,2.0" fill="none" stroke="#fff" stroke-width="2.4" stroke-linecap="round"/>
<circle cx="80.4" cy="11.0" r="6.6" fill="#c6dc68"/><ellipse cx="78.4" cy="8.7" rx="2.5" ry="1.7" fill="#fff" opacity=".3"/>
<circle cx="106.2" cy="16.4" r="6.3" fill="#f0613b"/><ellipse cx="104.3" cy="14.2" rx="2.4" ry="1.6" fill="#fff" opacity=".3"/>
<circle cx="160.5" cy="25.5" r="6.4" fill="#f8d24a"/><ellipse cx="158.6" cy="23.3" rx="2.4" ry="1.7" fill="#fff" opacity=".3"/>
<circle cx="61.8" cy="59.0" r="6.6" fill="#8edcc8"/><ellipse cx="59.8" cy="56.7" rx="2.5" ry="1.7" fill="#fff" opacity=".3"/>
<circle cx="132.6" cy="62.3" r="6.4" fill="#f47b3c"/><ellipse cx="130.7" cy="60.1" rx="2.4" ry="1.7" fill="#fff" opacity=".3"/>
<circle cx="99.0" cy="96.0" r="6" fill="#f8cfcf"/><ellipse cx="97.2" cy="93.9" rx="2.3" ry="1.6" fill="#fff" opacity=".3"/>
<path d="M102.0,38.0 V53.0 A8.5,3.9 0 0 0 119.0,53.0 V38.0 Z" fill="#f1c391"/><path d="M113.0,38.0 V56.5 A8.5,3.9 0 0 0 119.0,53.0 V38.0 Z" fill="#dba36c" opacity=".45"/><ellipse cx="110.5" cy="38.0" rx="8.5" ry="3.9" fill="#f8dcb8"/>
<path d="M117.5,37.5 l2.5,4" stroke="#222" stroke-width="2.2"/>
<path d="M152.5,83.5 V95.5 A9.0,4.1 0 0 0 170.5,95.5 V83.5 Z" fill="#f1c391"/><path d="M164.2,83.5 V99.2 A9.0,4.1 0 0 0 170.5,95.5 V83.5 Z" fill="#dba36c" opacity=".45"/><ellipse cx="161.5" cy="83.5" rx="9.0" ry="4.1" fill="#f8dcb8"/>
<path d="M153.5,91 l1.5,4" stroke="#222" stroke-width="2.2"/>
<circle cx="52" cy="71.7" r="1.4" fill="#1c4f8e"/>
</g>
<rect x="260.75" y="38.65" width="168.20" height="100.20" rx="7.6" fill="#fdfefe" stroke="#1b6697" stroke-width="1.9"/>
<g clip-path="url(#cb2)">
<rect x="259.8" y="37.7" width="170.1" height="102.1" fill="#0a6fb7"/>
<path d="M283.8,108 L297,121 L296,140 L430,140 L430,112 C380,117 340,117 310,113.5 Z" fill="#4a8fd2"/>
<path d="M283.8,108 L310,113.5 C340,117 380,116 430,111 L430,116.5 C380,121 340,123 300,120 Z" fill="#8fbfe7"/>
<path d="M298,124.5 C340,128.5 380,126.5 430,120 L430,126 C380,131.5 340,133.5 299,129.5Z" fill="#a9cdec"/>
<path d="M296,133 C340,137 380,135 430,129" stroke="#d4e6f6" stroke-width="1.3" fill="none"/>
<path d="M372,141 L394,131.7 L423.7,116.8 L432,112.5 L432,141Z" fill="#fcfefe"/><path d="M372,141 L394,131.7 L423.9,116.6" stroke="#1a4f8c" stroke-width="1.6" fill="none"/>
<path d="M266,44 L274,138" stroke="#2b78bf" stroke-width="1.2"/>
<path d="M408,42 L430,42 L430,70 Z" fill="#f1c391"/><path d="M412,42 L430,66" stroke="#e49b6b" stroke-width="2"/>
<ellipse cx="271" cy="54" rx="4.5" ry="2.3" fill="#d7e8f7"/>
<ellipse cx="284" cy="48" rx="5" ry="2.4" fill="#d7e8f7"/>
<ellipse cx="300" cy="45.5" rx="5" ry="2" fill="#d7e8f7"/>
<circle cx="279" cy="86" r="4" fill="none" stroke="#e6f1fb" stroke-width="1.2"/>
<circle cx="278" cy="97" r="2.2" fill="none" stroke="#e6f1fb" stroke-width="1.2"/>
<circle cx="286" cy="102" r="1.6" fill="none" stroke="#e6f1fb" stroke-width="1.2"/>
<g fill="none" stroke="#fff" stroke-width="3.7" stroke-linecap="round" stroke-linejoin="round">
<path d="M288.6,79.2 C289.1,77.5 289.7,72.2 291.5,68.7 C293.2,65.2 295.6,61.4 299.1,58.2 C302.7,55.0 307.4,51.8 312.5,49.6 C317.7,47.3 324.0,45.6 329.8,44.8 C335.5,44.0 341.9,44.1 347.0,44.8 C352.1,45.4 356.3,46.5 360.4,48.6 C364.6,50.7 368.2,54.4 371.9,57.2 C375.6,60.1 380.7,64.4 382.4,65.8"/>
<path d="M304.9,79.2 C305.5,77.5 306.5,71.9 308.7,68.7 C311.0,65.5 314.1,62.2 318.3,60.1 C322.4,58.0 328.8,56.8 333.6,56.3 C338.4,55.8 343.2,56.3 347.0,57.2 C350.8,58.2 353.7,60.1 356.6,62.0 C359.5,63.9 363.0,67.6 364.2,68.7"/>
<path d="M321.2,81.2 C321.8,79.9 322.9,75.6 325.0,73.5 C327.1,71.4 330.3,69.5 333.6,68.7 C337.0,67.9 341.6,68.1 345.1,68.7 C348.6,69.4 352.4,71.1 354.7,72.5 C357.0,74.0 358.2,76.5 358.9,77.3"/>
<path d="M299.1,63.0 C300.7,63.9 307.1,67.8 308.7,68.7"/>
<path d="M356.6,62.0 C356.3,63.8 355.0,70.8 354.7,72.5"/>
<path d="M299.1,111.8 C300.7,113.2 304.6,117.9 308.7,120.4 C312.9,123.0 318.3,125.9 324.0,127.1 C329.8,128.3 336.8,128.6 343.2,127.7 C349.6,126.8 356.3,124.4 362.3,121.9 C368.4,119.5 374.5,116.2 379.6,112.8 C384.7,109.3 389.8,105.6 393.0,101.3 C396.2,97.0 397.7,89.3 398.7,86.9"/>
<path d="M323.1,110.5 C324.5,110.9 328.0,112.6 331.7,113.1 C335.4,113.7 340.3,114.4 345.1,113.9 C349.9,113.4 355.6,112.0 360.4,110.1 C365.2,108.1 370.3,105.1 373.8,102.2 C377.3,99.3 380.0,95.4 381.5,92.7 C382.9,89.9 382.3,87.1 382.4,86.0"/>
<path d="M331.3,97.1 C332.3,97.6 334.5,99.9 337.4,100.3 C340.4,100.8 345.4,100.5 348.9,99.7 C352.4,98.9 355.9,97.2 358.5,95.5 C361.1,93.9 363.1,91.5 364.2,89.8 C365.4,88.0 365.0,85.8 365.2,85.0"/>
<path d="M331.3,97.1 C330.4,99.3 326.5,108.2 325.6,110.5"/>
<path d="M381.5,95.5 C383.4,96.5 391.0,100.6 393.0,101.7"/>
</g>
<g transform="translate(369,61) scale(1.12,0.96)"><polygon points="10.5,-1.3 12.0,-0.4 12.0,0.4 10.5,1.3 10.3,2.3 11.4,3.7 11.1,4.5 9.4,4.8 8.9,5.7 9.4,7.4 8.9,8.0 7.2,7.7 6.4,8.4 6.3,10.2 5.7,10.6 4.1,9.7 3.1,10.1 2.5,11.7 1.7,11.9 0.5,10.5 -0.5,10.5 -1.7,11.9 -2.5,11.7 -3.1,10.1 -4.1,9.7 -5.7,10.6 -6.3,10.2 -6.4,8.4 -7.2,7.7 -8.9,8.0 -9.4,7.4 -8.9,5.7 -9.4,4.8 -11.1,4.5 -11.4,3.7 -10.3,2.3 -10.5,1.3 -12.0,0.4 -12.0,-0.4 -10.5,-1.3 -10.3,-2.3 -11.4,-3.7 -11.1,-4.5 -9.4,-4.8 -8.9,-5.7 -9.4,-7.4 -8.9,-8.0 -7.2,-7.7 -6.4,-8.4 -6.3,-10.2 -5.7,-10.6 -4.1,-9.7 -3.1,-10.1 -2.5,-11.7 -1.7,-11.9 -0.5,-10.5 0.5,-10.5 1.7,-11.9 2.5,-11.7 3.1,-10.1 4.1,-9.7 5.7,-10.6 6.3,-10.2 6.4,-8.4 7.2,-7.7 8.9,-8.0 9.4,-7.4 8.9,-5.7 9.4,-4.8 11.1,-4.5 11.4,-3.7 10.3,-2.3" fill="#fdf6dc" stroke="#fdf6dc" stroke-width="1.4" stroke-linejoin="round" /><path d="M10.2,-2 L16.2,-3.5 L15.6,3 Z" fill="#f3a08c"/><circle cx="0" cy="0" r="10.6" fill="#fcecb4"/><circle cx="-1.2" cy="-6.0" r="1.8" fill="#f6c34f"/><circle cx="4.2" cy="-4.2" r="1.8" fill="#f6c34f"/><circle cx="6.0" cy="1.2" r="1.8" fill="#f6c34f"/><circle cx="-5.4" cy="-1.2" r="1.8" fill="#f6c34f"/><circle cx="2.4" cy="5.4" r="1.8" fill="#f6c34f"/><circle cx="-3.0" cy="4.8" r="1.8" fill="#f6c34f"/><circle cx="0.0" cy="0.0" r="1.8" fill="#f6c34f"/><circle cx="7.2" cy="-2.4" r="1.8" fill="#f6c34f"/><circle cx="-6.6" cy="3.6" r="1.8" fill="#f6c34f"/><circle cx="-4.2" cy="-0.6" r="1.3" fill="#2a2a2a"/><circle cx="3.0" cy="-0.6" r="1.3" fill="#2a2a2a"/></g>
<g transform="translate(315.5,98) rotate(-8) scale(1.1)"><path d="M-13,1 C-11,-3 -7,-6 -3,-7 L4,-11.5 L4.5,-5.5 C6,-4.5 7,-3.5 7.5,-2.5 L13,-6.5 L11,0.2 L13.5,6 L7.5,3 C6.5,4.5 5.5,5.5 4,6.5 L2,11.5 L-3,7.5 C-8,7 -11.5,4.5 -13,1 Z" fill="#fdf7ea" stroke="#fdf7ea" stroke-width="2.8" stroke-linejoin="round"/><path d="M-13,1 C-11,-3 -7,-6 -3,-7 L4,-11.5 L4.5,-5.5 C6,-4.5 7,-3.5 7.5,-2.5 L13,-6.5 L11,0.2 L13.5,6 L7.5,3 C6.5,4.5 5.5,5.5 4,6.5 L2,11.5 L-3,7.5 C-8,7 -11.5,4.5 -13,1 Z" fill="#f9c46c"/><path d="M-5,-6 L-6,6.5 M-1,-8 L-2,8 M3,-10 L2,10 M6.5,-3 L6,3.5" stroke="#f2a23c" stroke-width="1.5" fill="none"/><circle cx="-9.3" cy="-0.3" r="1.1" fill="#2a2a2a"/></g>
</g>
<rect x="478.95" y="2.01" width="168.20" height="100.20" rx="7.6" fill="#fdfefe" stroke="#1b6697" stroke-width="1.9"/>
<g clip-path="url(#cb3)">
<rect x="478.0" y="1.06" width="170.1" height="102.1" fill="#fdfefe"/>
<path d="M533.3,6.0 C535.4,7.4 542.0,11.2 545.9,14.5 C549.8,17.8 553.7,22.1 556.8,25.5 C559.9,28.9 562.5,32.8 564.7,34.9 C566.9,37.0 566.9,37.4 570.0,38.3 C573.1,39.2 577.9,40.2 583.2,40.4 C588.5,40.6 596.2,39.1 602.0,39.6 C607.8,40.1 613.0,42.0 617.7,43.6 C622.4,45.2 626.1,46.8 630.3,49.0 C634.5,51.2 639.5,54.7 642.8,56.9 C646.1,59.1 648.8,61.1 650.0,62.0 L650,104 L478,104 L478,6 Z" fill="#1167b1"/>
<path d="M478,55.3 L486,55.3 Q489.4,55.3 489.4,58.5 L489.4,69.4 Q489.4,72.6 486,72.6 L478,72.6Z" fill="#fdfefe"/>
<polygon points="539.2,34.9 545.4,38.4 545.1,41.0 538.2,42.9 537.0,45.8 540.7,51.9 539.2,54.0 532.2,52.1 529.8,54.1 529.9,61.2 527.5,62.3 522.4,57.2 519.4,57.7 515.9,63.9 513.3,63.6 511.4,56.7 508.5,55.5 502.4,59.2 500.3,57.7 502.2,50.7 500.2,48.3 493.1,48.4 492.0,46.0 497.1,40.9 496.6,37.9 490.4,34.4 490.7,31.8 497.6,29.9 498.8,27.0 495.1,20.9 496.6,18.8 503.6,20.7 506.0,18.7 505.9,11.6 508.3,10.5 513.4,15.6 516.4,15.1 519.9,8.9 522.5,9.2 524.4,16.1 527.3,17.3 533.4,13.6 535.5,15.1 533.6,22.1 535.6,24.5 542.7,24.4 543.8,26.8 538.7,31.9" fill="#9dc46c" stroke="#9dc46c" stroke-width="3.3" stroke-linejoin="round" />
<polygon points="539.7,33.4 545.9,36.9 545.6,39.5 538.7,41.4 537.5,44.3 541.2,50.4 539.7,52.5 532.7,50.6 530.3,52.6 530.4,59.7 528.0,60.8 522.9,55.7 519.9,56.2 516.4,62.4 513.8,62.1 511.9,55.2 509.0,54.0 502.9,57.7 500.8,56.2 502.7,49.2 500.7,46.8 493.6,46.9 492.5,44.5 497.6,39.4 497.1,36.4 490.9,32.9 491.2,30.3 498.1,28.4 499.3,25.5 495.6,19.4 497.1,17.3 504.1,19.2 506.5,17.2 506.4,10.1 508.8,9.0 513.9,14.1 516.9,13.6 520.4,7.4 523.0,7.7 524.9,14.6 527.8,15.8 533.9,12.1 536.0,13.6 534.1,20.6 536.1,23.0 543.2,22.9 544.3,25.3 539.2,30.4" fill="#c3e08a" stroke="#c3e08a" stroke-width="3.3" stroke-linejoin="round" />
<g transform="translate(518.6,35.6) scale(1.05)"><ellipse cx="0" cy="2" rx="9" ry="7.5" fill="#f5e27e"/><circle cx="-11.5" cy="-7.5" r="3.6" fill="#f19a72"/><circle cx="11.5" cy="-8" r="3.6" fill="#f19a72"/><path d="M-8,-2 C-10,-4 -11,-5 -11,-7 M8,-2 C10,-4 11,-5 11,-7 M-9,3 L-14,1 M-9,6 L-14,6.5 M-8,8.5 L-12,11 M9,3 L14,1 M9,6 L14,6.5 M8,8.5 L12,11" stroke="#f19a72" stroke-width="1.3" fill="none" stroke-linecap="round"/><circle cx="-3" cy="-6.5" r="1.5" fill="#222"/><circle cx="3" cy="-6.5" r="1.5" fill="#222"/></g>
<polygon points="619.0,66.6 625.4,69.7 625.3,72.3 618.6,74.7 617.6,77.7 621.6,83.6 620.2,85.8 613.2,84.5 610.9,86.6 611.4,93.7 609.1,94.9 603.7,90.3 600.6,91.0 597.5,97.4 594.9,97.3 592.5,90.6 589.5,89.6 583.6,93.6 581.4,92.2 582.7,85.2 580.6,82.9 573.5,83.4 572.3,81.1 576.9,75.7 576.2,72.6 569.8,69.5 569.9,66.9 576.6,64.5 577.6,61.5 573.6,55.6 575.0,53.4 582.0,54.7 584.3,52.6 583.8,45.5 586.1,44.3 591.5,48.9 594.6,48.2 597.7,41.8 600.3,41.9 602.7,48.6 605.7,49.6 611.6,45.6 613.8,47.0 612.5,54.0 614.6,56.3 621.7,55.8 622.9,58.1 618.3,63.5" fill="#6ba6de" stroke="#6ba6de" stroke-width="3.3" stroke-linejoin="round" />
<polygon points="619.5,64.9 625.9,68.0 625.8,70.6 619.1,73.0 618.1,76.0 622.1,81.9 620.7,84.1 613.7,82.8 611.4,84.9 611.9,92.0 609.6,93.2 604.2,88.6 601.1,89.3 598.0,95.7 595.4,95.6 593.0,88.9 590.0,87.9 584.1,91.9 581.9,90.5 583.2,83.5 581.1,81.2 574.0,81.7 572.8,79.4 577.4,74.0 576.7,70.9 570.3,67.8 570.4,65.2 577.1,62.8 578.1,59.8 574.1,53.9 575.5,51.7 582.5,53.0 584.8,50.9 584.3,43.8 586.6,42.6 592.0,47.2 595.1,46.5 598.2,40.1 600.8,40.2 603.2,46.9 606.2,47.9 612.1,43.9 614.3,45.3 613.0,52.3 615.1,54.6 622.2,54.1 623.4,56.4 618.8,61.8" fill="#8fc3ef" stroke="#8fc3ef" stroke-width="3.3" stroke-linejoin="round" />
<g transform="translate(596,66) scale(1.5)"><path d="M-12,-2 C-12,-10 -4,-13 2,-12 C9,-11 12,-5 10,-1 C6,3 -6,3 -12,-2Z" fill="#ece0d6"/><path d="M-11,3 C-10,10 -3,13 3,12 C9,11 12,7 11,2 C6,-1 -6,-1 -11,3Z" fill="#f5e5da"/><circle cx="1" cy="1" r="4.4" fill="#a58ac2"/><circle cx="-0.6" cy="0.2" r="1" fill="#222"/><circle cx="2.8" cy="0.4" r="1" fill="#222"/></g>
<polygon points="563.9,76.9 569.2,81.0 568.5,83.2 561.8,83.5 560.4,85.8 562.9,92.0 561.2,93.6 555.3,90.6 552.8,91.8 552.0,98.5 549.7,99.0 546.1,93.4 543.3,93.3 539.2,98.6 537.0,97.9 536.7,91.2 534.4,89.8 528.2,92.3 526.6,90.6 529.6,84.7 528.4,82.2 521.7,81.4 521.2,79.1 526.8,75.5 526.9,72.7 521.6,68.6 522.3,66.4 529.0,66.1 530.4,63.8 527.9,57.6 529.6,56.0 535.5,59.0 538.0,57.8 538.8,51.1 541.1,50.6 544.7,56.2 547.5,56.3 551.6,51.0 553.8,51.7 554.1,58.4 556.4,59.8 562.6,57.3 564.2,59.0 561.2,64.9 562.4,67.4 569.1,68.2 569.6,70.5 564.0,74.1" fill="#e9a45c" stroke="#e9a45c" stroke-width="3.0" stroke-linejoin="round" />
<polygon points="564.4,75.4 569.7,79.5 569.0,81.7 562.3,82.0 560.9,84.3 563.4,90.5 561.7,92.1 555.8,89.1 553.3,90.3 552.5,97.0 550.2,97.5 546.6,91.9 543.8,91.8 539.7,97.1 537.5,96.4 537.2,89.7 534.9,88.3 528.7,90.8 527.1,89.1 530.1,83.2 528.9,80.7 522.2,79.9 521.7,77.6 527.3,74.0 527.4,71.2 522.1,67.1 522.8,64.9 529.5,64.6 530.9,62.3 528.4,56.1 530.1,54.5 536.0,57.5 538.5,56.3 539.3,49.6 541.6,49.1 545.2,54.7 548.0,54.8 552.1,49.5 554.3,50.2 554.6,56.9 556.9,58.3 563.1,55.8 564.7,57.5 561.7,63.4 562.9,65.9 569.6,66.7 570.1,69.0 564.5,72.6" fill="#f9c07c" stroke="#f9c07c" stroke-width="3.0" stroke-linejoin="round" />
<g transform="translate(546.5,73) scale(1.12)" fill="none" stroke="#e9786a" stroke-width="2.3" stroke-linecap="round" stroke-linejoin="round"><path d="M0,11 L0,-10 M0,5 L-6,-1 L-6,-9 M-6,-1 L-11,-4 L-11,-8 M0,0 L6,-5 L6,-11 M6,-5 L11,-6 L12,-10 M0,7 L-10,5 L-13,1 M0,8 L8,4 L12,0 M-3,-4 L-3,-9 M3,-2 L3,-8"/></g>
</g>
<rect x="80.95" y="446.75" width="238.00" height="122.20" rx="7.6" fill="#fdfefe" stroke="#1b6697" stroke-width="1.9"/>
<g clip-path="url(#cb4)">
<rect x="80.0" y="445.8" width="239.9" height="124.1" fill="#fcfefe"/>
<path d="M80,453 C130,454 180,457.5 222,457.6 C255,457.3 290,455 320,453 L320,549 C310,551.3 298,554.3 285,556.8 C270,559 250,560.6 220,562.5 L150,566 L80,568 Z" fill="#0b6db6"/>
<g clip-path="url(#cb4body)">
<path d="M80,486 C95,487 108,488 121,489.5 C135,492 150,494 165,496 L180,498 C190,503 200,508 208.3,512.1 C215,514.5 220,515.5 226,516.5 C235,520 242,524 249,527 C256,529.5 262,531 264,531.5 L264.4,513 C268,516 274,520 278.3,524 C290,523 302,524 320,526 L320,570 L80,570Z" fill="#69a6d1"/>
<path d="M264.4,513 C268,516 274,520 278.3,524 L279,531 L264,531.5Z" fill="#86b6e0"/>
<path d="M266,531 L279,531 C288,530 300,530 320,532 L320,570 L266,570Z" fill="#8fbce4"/>
<path d="M278.3,524 C290,523 302,524 320,526 L320,532 C300,530 288,530 279,531Z" fill="#a9cbea"/>
<path d="M266,539 C285,538 300,539 320,541 L320,545 C300,543.5 285,543 268,544Z" fill="#b5d3ee"/>
<path d="M86.0,497.0 C89.9,497.7 103.2,500.2 109.2,501.4 C115.2,502.6 117.3,503.3 121.8,504.3 C126.3,505.3 134.0,506.8 136.4,507.3" fill="none" stroke="#eaf3fb" stroke-width="1.3"/>
<path d="M180.0,509.0 C183.3,509.7 193.0,511.5 200.0,513.0 C207.0,514.5 214.5,516.0 222.0,518.0 C229.5,520.0 241.2,523.8 245.0,525.0" fill="none" stroke="#eaf3fb" stroke-width="1.3"/>
<path d="M86.0,520.3 C89.9,520.8 102.1,522.4 109.2,523.4 C116.3,524.4 119.8,525.1 128.6,526.1 C137.3,527.1 156.2,529.0 161.7,529.6" fill="none" stroke="#eaf3fb" stroke-width="1.3"/>
<path d="M86.0,531.6 C89.9,531.9 102.1,532.5 109.2,533.1 C116.3,533.7 120.5,534.3 128.6,535.1 C136.7,535.9 152.9,537.3 157.8,537.8" fill="none" stroke="#eaf3fb" stroke-width="1.3"/>
<path d="M86.0,547.1 C89.9,547.4 102.1,548.2 109.2,548.7 C116.3,549.2 119.3,549.4 128.6,550.0 C137.9,550.6 158.9,551.9 165.0,552.3" fill="none" stroke="#eaf3fb" stroke-width="1.3"/>
<path d="M86.0,562.7 C91.5,562.9 109.2,563.3 118.9,563.7 C128.6,564.1 140.0,564.8 144.2,565.0" fill="none" stroke="#eaf3fb" stroke-width="1.3"/>
<path d="M143.2,530.6 C144.0,532.7 145.7,537.6 148.0,543.0 C150.3,548.4 155.3,559.4 156.8,562.7" fill="none" stroke="#eaf3fb" stroke-width="1.3"/>
<path d="M147.1,537.4 C147.9,539.2 149.8,543.7 152.0,548.0 C154.2,552.3 158.7,560.5 160.0,563.0" fill="none" stroke="#eaf3fb" stroke-width="1.3"/>
<path d="M242.0,539.0 C244.2,539.1 250.3,539.4 255.0,539.5 C259.7,539.6 267.5,539.5 270.0,539.5" fill="none" stroke="#eaf3fb" stroke-width="1.3"/>
<path d="M246.0,546.0 C248.0,546.1 253.7,546.5 258.0,546.5 C262.3,546.5 269.7,546.1 272.0,546.0" fill="none" stroke="#eaf3fb" stroke-width="1.3"/>
<path d="M250.0,553.0 C252.0,553.0 257.7,553.2 262.0,553.0 C266.3,552.8 273.7,551.8 276.0,551.5" fill="none" stroke="#eaf3fb" stroke-width="1.3"/>
<path d="M110.1,452 L121.8,490.7 L128.6,510.2 L142.2,564.6 L143,570" stroke="#0f4a8a" stroke-width="1.1" fill="none" opacity=".85"/>
<path d="M230.7,457.7 L245.2,494.5 L264.7,539.2 L272.4,559.6" stroke="#0f4a8a" stroke-width="1.1" fill="none" opacity=".85"/>
</g>
<path d="M80,568 L150,566 L220,562.5 C250,560.6 270,559 285,556.8 C298,554.3 310,551.3 320,549" stroke="#124f96" stroke-width="1.3" fill="none"/>
<circle cx="96.5" cy="467.5" r="9.2" fill="#eef1f4"/><ellipse cx="91" cy="469.3" rx="7.8" ry="8.8" fill="#17191d"/>
<path d="M88.7,477 V506" stroke="#f4efe6" stroke-width="1.2"/><circle cx="87.8" cy="480" r="2.6" fill="#f3d067"/><circle cx="87" cy="513" r="2" fill="#f07a4a" opacity=".8"/>
<ellipse cx="132.1" cy="478.7" rx="7.4" ry="5.8" fill="#bf6b4b"/><ellipse cx="132.1" cy="478.3" rx="5.6" ry="4.2" fill="#cc7d5f"/>
<ellipse cx="157.3" cy="501.6" rx="23.9" ry="20.2" fill="#e3b544"/><ellipse cx="157.3" cy="500.2" rx="23.9" ry="19.5" fill="url(#gring)"/><ellipse cx="157.3" cy="501" rx="18.2" ry="13" fill="#77705a"/><ellipse cx="157.6" cy="502" rx="17.8" ry="12.4" fill="#fdfefe"/>
<ellipse cx="203.3" cy="465" rx="17.2" ry="12.5" fill="#dcb04a"/><ellipse cx="203.3" cy="464" rx="17.2" ry="12.2" fill="#efc962"/><ellipse cx="203.3" cy="465.5" rx="12.5" ry="8.6" fill="url(#gbell)"/><ellipse cx="203.3" cy="458.6" rx="2.6" ry="2" fill="#f7df8c"/>
<ellipse cx="165.6" cy="463.5" rx="3.8" ry="1.8" fill="#cfe3f4"/>
<ellipse cx="181.1" cy="460.6" rx="3.6" ry="1.7" fill="#cfe3f4"/>
<ellipse cx="181.1" cy="470.3" rx="3.6" ry="1.7" fill="#cfe3f4"/>
<ellipse cx="222" cy="462.5" rx="3.5" ry="1.8" fill="#cfe3f4"/>
<ellipse cx="232.6" cy="466.4" rx="3.2" ry="1.7" fill="#cfe3f4"/>
<ellipse cx="243.3" cy="461.1" rx="5.2" ry="2.1" fill="#cfe3f4"/>
<ellipse cx="248.2" cy="469.3" rx="3.4" ry="1.8" fill="#cfe3f4"/>
<ellipse cx="257.9" cy="463.9" rx="4.2" ry="1.9" fill="#cfe3f4"/>
<ellipse cx="270.5" cy="460" rx="4.6" ry="1.9" fill="#cfe3f4"/>
<ellipse cx="285" cy="457.3" rx="3.6" ry="1.7" fill="#cfe3f4"/>
<path d="M194.2,495.3 L224.2,489 L230.4,497 L201.3,506.8 Z" fill="#f1c391" stroke="#f1c391" stroke-width="2.2" stroke-linejoin="round"/>
<path d="M199.0,495.0 l3,8.6" stroke="#dba36c" stroke-width="0.9"/>
<path d="M201.7,494.4 l3,8.6" stroke="#dba36c" stroke-width="0.9"/>
<path d="M204.4,493.9 l3,8.6" stroke="#dba36c" stroke-width="0.9"/>
<path d="M207.1,493.3 l3,8.6" stroke="#dba36c" stroke-width="0.9"/>
<path d="M209.8,492.7 l3,8.6" stroke="#dba36c" stroke-width="0.9"/>
<path d="M212.5,492.1 l3,8.6" stroke="#dba36c" stroke-width="0.9"/>
<path d="M215.2,491.6 l3,8.6" stroke="#dba36c" stroke-width="0.9"/>
<path d="M217.9,491.0 l3,8.6" stroke="#dba36c" stroke-width="0.9"/>
<path d="M220.6,490.4 l3,8.6" stroke="#dba36c" stroke-width="0.9"/>
<path d="M223.3,489.9 l3,8.6" stroke="#dba36c" stroke-width="0.9"/>
<path d="M219.8,498.5 L230.4,493.5 L234,509.4 L222.5,513 Z" fill="#f1c596" stroke="#f1c596" stroke-width="2.4" stroke-linejoin="round"/>
<path d="M227,508 C228,502 236,502 237.5,507 C238.5,512 232,514 229,511.5 M233,513 C236,520 245,520 246.5,514 C247.5,510 245,508 243,508" fill="none" stroke="#f6f1e8" stroke-width="1.1"/>
<path d="M158.1,534.1 L165.5,532.1 L175.8,562.5 L168.4,564.1 Z" fill="#a4e2d0" stroke="#a4e2d0" stroke-width="1.3" stroke-linejoin="round"/>
<path d="M165.5,532.1 L175.8,562.5" stroke="#000" stroke-width="1.2" opacity=".08"/>
<circle cx="163.4" cy="537.3" r="1.1" fill="#cbbda8"/><circle cx="170.5" cy="558.3" r="1.1" fill="#cbbda8"/>
<path d="M167.5,531.3 L174.9,529.3 L185.9,562.0 L178.5,563.6 Z" fill="#3cc6b6" stroke="#3cc6b6" stroke-width="1.3" stroke-linejoin="round"/>
<path d="M174.9,529.3 L185.9,562.0" stroke="#000" stroke-width="1.2" opacity=".08"/>
<circle cx="172.8" cy="534.5" r="1.1" fill="#cbbda8"/><circle cx="180.6" cy="557.8" r="1.1" fill="#cbbda8"/>
<path d="M177.6,528.5 L185.0,526.5 L196.1,561.1 L188.7,562.7 Z" fill="#1b9a8b" stroke="#1b9a8b" stroke-width="1.3" stroke-linejoin="round"/>
<path d="M185.0,526.5 L196.1,561.1" stroke="#000" stroke-width="1.2" opacity=".08"/>
<circle cx="182.9" cy="531.7" r="1.1" fill="#cbbda8"/><circle cx="190.8" cy="556.9" r="1.1" fill="#cbbda8"/>
<path d="M187.8,525.5 L195.2,523.5 L205.8,559.4 L198.4,561.0 Z" fill="#a7dd8f" stroke="#a7dd8f" stroke-width="1.3" stroke-linejoin="round"/>
<path d="M195.2,523.5 L205.8,559.4" stroke="#000" stroke-width="1.2" opacity=".08"/>
<circle cx="193.1" cy="528.7" r="1.1" fill="#cbbda8"/><circle cx="200.5" cy="555.2" r="1.1" fill="#cbbda8"/>
<path d="M197.9,521.9 L205.3,519.9 L216.8,557.8 L209.4,559.4 Z" fill="#8fd250" stroke="#8fd250" stroke-width="1.3" stroke-linejoin="round"/>
<path d="M205.3,519.9 L216.8,557.8" stroke="#000" stroke-width="1.2" opacity=".08"/>
<circle cx="203.2" cy="525.1" r="1.1" fill="#cbbda8"/><circle cx="211.5" cy="553.6" r="1.1" fill="#cbbda8"/>
<path d="M206.7,520.2 L214.1,518.2 L227.9,556.7 L220.5,558.3 Z" fill="#f8a33c" stroke="#f8a33c" stroke-width="1.3" stroke-linejoin="round"/>
<path d="M214.1,518.2 L227.9,556.7" stroke="#000" stroke-width="1.2" opacity=".08"/>
<circle cx="212.0" cy="523.4" r="1.1" fill="#cbbda8"/><circle cx="222.6" cy="552.5" r="1.1" fill="#cbbda8"/>
<path d="M216.5,517.5 L223.9,515.5 L237.7,556.0 L230.3,557.6 Z" fill="#f57c45" stroke="#f57c45" stroke-width="1.3" stroke-linejoin="round"/>
<path d="M223.9,515.5 L237.7,556.0" stroke="#000" stroke-width="1.2" opacity=".08"/>
<circle cx="221.8" cy="520.7" r="1.1" fill="#cbbda8"/><circle cx="232.4" cy="551.8" r="1.1" fill="#cbbda8"/>
<path d="M225.3,515.4 L232.7,513.4 L247.4,555.3 L240.0,556.9 Z" fill="#f8c6a6" stroke="#f8c6a6" stroke-width="1.3" stroke-linejoin="round"/>
<path d="M232.7,513.4 L247.4,555.3" stroke="#000" stroke-width="1.2" opacity=".08"/>
<circle cx="230.6" cy="518.6" r="1.1" fill="#cbbda8"/><circle cx="242.1" cy="551.1" r="1.1" fill="#cbbda8"/>
<path d="M187.6,529 L173,560.7" stroke="#ecba86" stroke-width="4.8" stroke-linecap="round"/><path d="M188.6,526.6 L186.6,531.2" stroke="#ef7a4a" stroke-width="6" stroke-linecap="round"/>
<path d="M108.3,514.5 V527.0 A6.7,3.1 0 0 0 121.7,527.0 V514.5 Z" fill="#f1c391"/><path d="M117.0,514.5 V529.8 A6.7,3.1 0 0 0 121.7,527.0 V514.5 Z" fill="#dba36c" opacity=".45"/><ellipse cx="115.0" cy="514.5" rx="6.7" ry="3.1" fill="#f8dcb8"/>
<circle cx="111.4" cy="524.6" r="1.6" fill="#222"/>
<path d="M111.1,524.8 C104,531 96,538 86,542.3" stroke="#f6f1e8" stroke-width="1.2" fill="none"/>
<g fill="none" stroke="#fff" stroke-width="2.7" stroke-linecap="round" stroke-linejoin="round">
<path d="M263.7,485.8 C264.3,484.0 265.1,478.5 267.6,475.1 C270.0,471.7 273.9,467.8 278.3,465.4 C282.6,463.0 287.8,461.0 293.8,460.6 C299.8,460.1 310.8,462.2 314.2,462.5"/>
<path d="M277.3,492.6 C277.8,490.7 278.4,484.0 280.2,481.0 C282.0,477.9 284.4,475.9 288.0,474.2 C291.5,472.4 297.2,470.6 301.6,470.3 C305.9,469.9 312.1,471.9 314.2,472.2"/>
<path d="M290.9,494.2 C291.5,492.8 292.7,487.8 294.8,485.8 C296.9,483.8 300.3,482.4 303.5,481.9 C306.7,481.4 312.4,482.7 314.2,482.9"/>
<path d="M272.0,478.6 C273.5,479.3 279.2,481.9 280.6,482.5"/>
<path d="M278.3,517.8 C279.5,519.1 282.8,523.5 286.0,525.6 C289.3,527.7 293.0,529.5 297.7,530.5 C302.4,531.4 311.4,531.3 314.2,531.4"/>
<path d="M296.7,513.0 C297.8,514.3 300.6,519.1 303.5,520.8 C306.4,522.4 312.4,522.4 314.2,522.7"/>
<path d="M302.5,507.7 C303.3,508.6 305.4,511.6 307.4,512.6 C309.3,513.6 313.0,513.7 314.2,514.0"/>
<path d="M299.6,510.1 C300.3,511.4 303.2,516.9 303.9,518.2"/>
</g>
<g transform="translate(289,507.5) rotate(-6) scale(0.88)"><path d="M-13,1 C-11,-3 -7,-6 -3,-7 L4,-11.5 L4.5,-5.5 C6,-4.5 7,-3.5 7.5,-2.5 L13,-6.5 L11,0.2 L13.5,6 L7.5,3 C6.5,4.5 5.5,5.5 4,6.5 L2,11.5 L-3,7.5 C-8,7 -11.5,4.5 -13,1 Z" fill="#fdf7ea" stroke="#fdf7ea" stroke-width="2.8" stroke-linejoin="round"/><path d="M-13,1 C-11,-3 -7,-6 -3,-7 L4,-11.5 L4.5,-5.5 C6,-4.5 7,-3.5 7.5,-2.5 L13,-6.5 L11,0.2 L13.5,6 L7.5,3 C6.5,4.5 5.5,5.5 4,6.5 L2,11.5 L-3,7.5 C-8,7 -11.5,4.5 -13,1 Z" fill="#f9c46c"/><path d="M-5,-6 L-6,6.5 M-1,-8 L-2,8 M3,-10 L2,10 M6.5,-3 L6,3.5" stroke="#f2a23c" stroke-width="1.5" fill="none"/><circle cx="-9.3" cy="-0.3" r="1.1" fill="#2a2a2a"/></g>
<circle cx="257.9" cy="494.5" r="3.3" fill="none" stroke="#e6f1fb" stroke-width="1"/>
<circle cx="258.3" cy="503.9" r="1.9" fill="none" stroke="#e6f1fb" stroke-width="1"/>
<circle cx="265" cy="508.5" r="1.4" fill="none" stroke="#e6f1fb" stroke-width="1"/>
<circle cx="266.6" cy="555.3" r="1.1" fill="#143f75"/>
<circle cx="277.7" cy="552.4" r="1.1" fill="#143f75"/>
<circle cx="138" cy="561" r="1.1" fill="#143f75"/>
</g>
<rect x="160.7" y="440.8" width="7" height="6.4" rx="1" fill="#f3caa0"/>
<rect x="368.35" y="446.75" width="238.00" height="122.20" rx="7.6" fill="#fdfefe" stroke="#1b6697" stroke-width="1.9"/>
<g clip-path="url(#cb5)">
<rect x="367.4" y="445.8" width="239.9" height="124.1" fill="#fcfefe"/>
<path d="M367,452.5 L440,452.5 L480,459.6 L509.1,465.4 L538.3,471.3 L573.3,478.1 L601.5,483.5 L580.5,556.8 C565,560 550,562 538.3,562.6 L480,564.5 L367,566.5Z" fill="#0d7fc3"/>
<path d="M586,481 L601.5,483.5 L580.5,556.8 L566,559.5Z" fill="#0a78bb"/>
<path d="M416.5,452 L374.2,527.4 L372,532" stroke="#12579d" stroke-width="1" fill="none" opacity=".8"/>
<path d="M367,452 L378.6,452 Q380.5,462 378.8,471.8 L367,471.8Z" fill="#fcfefe"/>
<path d="M397.5,528.8 L433,449 L529,469.5 L492,557.5 L487.6,556.3 Z" fill="#fcfdfb"/>
<path d="M397.5,528.8 L487.6,556.3 L489,552.3 L399.5,524.6Z" fill="#e9e6df"/>
<path d="M423.2,452.6 L431.6,453.8 L398.5,526.5 L389.6,523 Z" fill="#f1c391" stroke="#f1c391" stroke-width="1.5" stroke-linejoin="round"/>
<path d="M423.2,452.6 L426,453 L392.5,524.2 L389.6,523 Z" fill="#f8dcb8" opacity=".6"/>
<path d="M389,523.4 L399,527.2 L397.6,532.6 L388,528.6Z" fill="#dba36c" stroke="#dba36c" stroke-width="1" stroke-linejoin="round"/>
<path d="M516.5,474.5 L525.5,476.3 L498.5,556 L489.3,553.2 Z" fill="#f1c391" stroke="#f1c391" stroke-width="1.5" stroke-linejoin="round"/>
<path d="M516.5,474.5 L519.5,475.1 L492.3,554.2 L489.3,553.2 Z" fill="#f8dcb8" opacity=".6"/>
<path d="M489,553.6 L498.6,556.6 L497,562 L487.6,558.6Z" fill="#dba36c" stroke="#dba36c" stroke-width="1" stroke-linejoin="round"/>
<path d="M432.0,463.5 L513.6,486.5" stroke="#d6d2ca" stroke-width="0.8"/>
<ellipse cx="432.0" cy="463.5" rx="3.6" ry="5.5" fill="#ea7157" transform="rotate(12 432.0 463.5)"/>
<ellipse cx="431.1" cy="461.5" rx="1.3" ry="1.9" fill="#fff" opacity=".32"/>
<ellipse cx="441.1" cy="466.1" rx="3.6" ry="5.5" fill="#ea7157" transform="rotate(12 441.1 466.1)"/>
<ellipse cx="440.2" cy="464.1" rx="1.3" ry="1.9" fill="#fff" opacity=".32"/>
<ellipse cx="450.1" cy="468.6" rx="3.6" ry="5.5" fill="#ea7157" transform="rotate(12 450.1 468.6)"/>
<ellipse cx="449.2" cy="466.6" rx="1.3" ry="1.9" fill="#fff" opacity=".32"/>
<ellipse cx="459.2" cy="471.2" rx="3.6" ry="5.5" fill="#ea7157" transform="rotate(12 459.2 471.2)"/>
<ellipse cx="458.3" cy="469.2" rx="1.3" ry="1.9" fill="#fff" opacity=".32"/>
<ellipse cx="468.3" cy="473.7" rx="3.6" ry="5.5" fill="#ea7157" transform="rotate(12 468.3 473.7)"/>
<ellipse cx="467.4" cy="471.7" rx="1.3" ry="1.9" fill="#fff" opacity=".32"/>
<ellipse cx="477.3" cy="476.3" rx="3.6" ry="5.5" fill="#ea7157" transform="rotate(12 477.3 476.3)"/>
<ellipse cx="476.4" cy="474.3" rx="1.3" ry="1.9" fill="#fff" opacity=".32"/>
<ellipse cx="486.4" cy="478.8" rx="3.6" ry="5.5" fill="#ea7157" transform="rotate(12 486.4 478.8)"/>
<ellipse cx="485.5" cy="476.8" rx="1.3" ry="1.9" fill="#fff" opacity=".32"/>
<ellipse cx="495.5" cy="481.4" rx="3.6" ry="5.5" fill="#ea7157" transform="rotate(12 495.5 481.4)"/>
<ellipse cx="494.6" cy="479.4" rx="1.3" ry="1.9" fill="#fff" opacity=".32"/>
<ellipse cx="504.5" cy="483.9" rx="3.6" ry="5.5" fill="#ea7157" transform="rotate(12 504.5 483.9)"/>
<ellipse cx="503.6" cy="481.9" rx="1.3" ry="1.9" fill="#fff" opacity=".32"/>
<ellipse cx="513.6" cy="486.5" rx="3.6" ry="5.5" fill="#ea7157" transform="rotate(12 513.6 486.5)"/>
<ellipse cx="512.7" cy="484.5" rx="1.3" ry="1.9" fill="#fff" opacity=".32"/>
<path d="M424.9,476.9 L506.5,499.9" stroke="#d6d2ca" stroke-width="0.8"/>
<ellipse cx="424.9" cy="476.9" rx="3.6" ry="5.5" fill="#f3a055" transform="rotate(12 424.9 476.9)"/>
<ellipse cx="424.0" cy="474.9" rx="1.3" ry="1.9" fill="#fff" opacity=".32"/>
<ellipse cx="434.0" cy="479.5" rx="3.6" ry="5.5" fill="#f3a055" transform="rotate(12 434.0 479.5)"/>
<ellipse cx="433.1" cy="477.5" rx="1.3" ry="1.9" fill="#fff" opacity=".32"/>
<ellipse cx="443.0" cy="482.0" rx="3.6" ry="5.5" fill="#f3a055" transform="rotate(12 443.0 482.0)"/>
<ellipse cx="442.1" cy="480.0" rx="1.3" ry="1.9" fill="#fff" opacity=".32"/>
<ellipse cx="452.1" cy="484.6" rx="3.6" ry="5.5" fill="#f3a055" transform="rotate(12 452.1 484.6)"/>
<ellipse cx="451.2" cy="482.6" rx="1.3" ry="1.9" fill="#fff" opacity=".32"/>
<ellipse cx="461.2" cy="487.1" rx="3.6" ry="5.5" fill="#f3a055" transform="rotate(12 461.2 487.1)"/>
<ellipse cx="460.3" cy="485.1" rx="1.3" ry="1.9" fill="#fff" opacity=".32"/>
<ellipse cx="470.2" cy="489.7" rx="3.6" ry="5.5" fill="#f3a055" transform="rotate(12 470.2 489.7)"/>
<ellipse cx="469.3" cy="487.7" rx="1.3" ry="1.9" fill="#fff" opacity=".32"/>
<ellipse cx="479.3" cy="492.2" rx="3.6" ry="5.5" fill="#f3a055" transform="rotate(12 479.3 492.2)"/>
<ellipse cx="478.4" cy="490.2" rx="1.3" ry="1.9" fill="#fff" opacity=".32"/>
<ellipse cx="488.4" cy="494.8" rx="3.6" ry="5.5" fill="#f3a055" transform="rotate(12 488.4 494.8)"/>
<ellipse cx="487.5" cy="492.8" rx="1.3" ry="1.9" fill="#fff" opacity=".32"/>
<ellipse cx="497.4" cy="497.3" rx="3.6" ry="5.5" fill="#f3a055" transform="rotate(12 497.4 497.3)"/>
<ellipse cx="496.5" cy="495.3" rx="1.3" ry="1.9" fill="#fff" opacity=".32"/>
<ellipse cx="506.5" cy="499.9" rx="3.6" ry="5.5" fill="#f3a055" transform="rotate(12 506.5 499.9)"/>
<ellipse cx="505.6" cy="497.9" rx="1.3" ry="1.9" fill="#fff" opacity=".32"/>
<path d="M417.6,490.3 L499.2,513.3" stroke="#d6d2ca" stroke-width="0.8"/>
<ellipse cx="417.6" cy="490.3" rx="3.6" ry="5.5" fill="#f7d969" transform="rotate(12 417.6 490.3)"/>
<ellipse cx="416.7" cy="488.3" rx="1.3" ry="1.9" fill="#fff" opacity=".32"/>
<ellipse cx="426.7" cy="492.9" rx="3.6" ry="5.5" fill="#f7d969" transform="rotate(12 426.7 492.9)"/>
<ellipse cx="425.8" cy="490.9" rx="1.3" ry="1.9" fill="#fff" opacity=".32"/>
<ellipse cx="435.7" cy="495.4" rx="3.6" ry="5.5" fill="#f7d969" transform="rotate(12 435.7 495.4)"/>
<ellipse cx="434.8" cy="493.4" rx="1.3" ry="1.9" fill="#fff" opacity=".32"/>
<ellipse cx="444.8" cy="498.0" rx="3.6" ry="5.5" fill="#f7d969" transform="rotate(12 444.8 498.0)"/>
<ellipse cx="443.9" cy="496.0" rx="1.3" ry="1.9" fill="#fff" opacity=".32"/>
<ellipse cx="453.9" cy="500.5" rx="3.6" ry="5.5" fill="#f7d969" transform="rotate(12 453.9 500.5)"/>
<ellipse cx="453.0" cy="498.5" rx="1.3" ry="1.9" fill="#fff" opacity=".32"/>
<ellipse cx="462.9" cy="503.1" rx="3.6" ry="5.5" fill="#f7d969" transform="rotate(12 462.9 503.1)"/>
<ellipse cx="462.0" cy="501.1" rx="1.3" ry="1.9" fill="#fff" opacity=".32"/>
<ellipse cx="472.0" cy="505.6" rx="3.6" ry="5.5" fill="#f7d969" transform="rotate(12 472.0 505.6)"/>
<ellipse cx="471.1" cy="503.6" rx="1.3" ry="1.9" fill="#fff" opacity=".32"/>
<ellipse cx="481.1" cy="508.2" rx="3.6" ry="5.5" fill="#f7d969" transform="rotate(12 481.1 508.2)"/>
<ellipse cx="480.2" cy="506.2" rx="1.3" ry="1.9" fill="#fff" opacity=".32"/>
<ellipse cx="490.1" cy="510.7" rx="3.6" ry="5.5" fill="#f7d969" transform="rotate(12 490.1 510.7)"/>
<ellipse cx="489.2" cy="508.7" rx="1.3" ry="1.9" fill="#fff" opacity=".32"/>
<ellipse cx="499.2" cy="513.3" rx="3.6" ry="5.5" fill="#f7d969" transform="rotate(12 499.2 513.3)"/>
<ellipse cx="498.3" cy="511.3" rx="1.3" ry="1.9" fill="#fff" opacity=".32"/>
<path d="M410.7,503.7 L492.3,526.7" stroke="#d6d2ca" stroke-width="0.8"/>
<ellipse cx="410.7" cy="503.7" rx="3.6" ry="5.5" fill="#addb7c" transform="rotate(12 410.7 503.7)"/>
<ellipse cx="409.8" cy="501.7" rx="1.3" ry="1.9" fill="#fff" opacity=".32"/>
<ellipse cx="419.8" cy="506.3" rx="3.6" ry="5.5" fill="#addb7c" transform="rotate(12 419.8 506.3)"/>
<ellipse cx="418.9" cy="504.3" rx="1.3" ry="1.9" fill="#fff" opacity=".32"/>
<ellipse cx="428.8" cy="508.8" rx="3.6" ry="5.5" fill="#addb7c" transform="rotate(12 428.8 508.8)"/>
<ellipse cx="427.9" cy="506.8" rx="1.3" ry="1.9" fill="#fff" opacity=".32"/>
<ellipse cx="437.9" cy="511.4" rx="3.6" ry="5.5" fill="#addb7c" transform="rotate(12 437.9 511.4)"/>
<ellipse cx="437.0" cy="509.4" rx="1.3" ry="1.9" fill="#fff" opacity=".32"/>
<ellipse cx="447.0" cy="513.9" rx="3.6" ry="5.5" fill="#addb7c" transform="rotate(12 447.0 513.9)"/>
<ellipse cx="446.1" cy="511.9" rx="1.3" ry="1.9" fill="#fff" opacity=".32"/>
<ellipse cx="456.0" cy="516.5" rx="3.6" ry="5.5" fill="#addb7c" transform="rotate(12 456.0 516.5)"/>
<ellipse cx="455.1" cy="514.5" rx="1.3" ry="1.9" fill="#fff" opacity=".32"/>
<ellipse cx="465.1" cy="519.0" rx="3.6" ry="5.5" fill="#addb7c" transform="rotate(12 465.1 519.0)"/>
<ellipse cx="464.2" cy="517.0" rx="1.3" ry="1.9" fill="#fff" opacity=".32"/>
<ellipse cx="474.2" cy="521.6" rx="3.6" ry="5.5" fill="#addb7c" transform="rotate(12 474.2 521.6)"/>
<ellipse cx="473.3" cy="519.6" rx="1.3" ry="1.9" fill="#fff" opacity=".32"/>
<ellipse cx="483.2" cy="524.1" rx="3.6" ry="5.5" fill="#addb7c" transform="rotate(12 483.2 524.1)"/>
<ellipse cx="482.3" cy="522.1" rx="1.3" ry="1.9" fill="#fff" opacity=".32"/>
<ellipse cx="492.3" cy="526.7" rx="3.6" ry="5.5" fill="#addb7c" transform="rotate(12 492.3 526.7)"/>
<ellipse cx="491.4" cy="524.7" rx="1.3" ry="1.9" fill="#fff" opacity=".32"/>
<path d="M403.7,517.1 L485.3,540.1" stroke="#d6d2ca" stroke-width="0.8"/>
<ellipse cx="403.7" cy="517.1" rx="3.6" ry="5.5" fill="#a9e0d9" transform="rotate(12 403.7 517.1)"/>
<ellipse cx="402.8" cy="515.1" rx="1.3" ry="1.9" fill="#fff" opacity=".32"/>
<ellipse cx="412.8" cy="519.7" rx="3.6" ry="5.5" fill="#a9e0d9" transform="rotate(12 412.8 519.7)"/>
<ellipse cx="411.9" cy="517.7" rx="1.3" ry="1.9" fill="#fff" opacity=".32"/>
<ellipse cx="421.8" cy="522.2" rx="3.6" ry="5.5" fill="#a9e0d9" transform="rotate(12 421.8 522.2)"/>
<ellipse cx="420.9" cy="520.2" rx="1.3" ry="1.9" fill="#fff" opacity=".32"/>
<ellipse cx="430.9" cy="524.8" rx="3.6" ry="5.5" fill="#a9e0d9" transform="rotate(12 430.9 524.8)"/>
<ellipse cx="430.0" cy="522.8" rx="1.3" ry="1.9" fill="#fff" opacity=".32"/>
<ellipse cx="440.0" cy="527.3" rx="3.6" ry="5.5" fill="#a9e0d9" transform="rotate(12 440.0 527.3)"/>
<ellipse cx="439.1" cy="525.3" rx="1.3" ry="1.9" fill="#fff" opacity=".32"/>
<ellipse cx="449.0" cy="529.9" rx="3.6" ry="5.5" fill="#a9e0d9" transform="rotate(12 449.0 529.9)"/>
<ellipse cx="448.1" cy="527.9" rx="1.3" ry="1.9" fill="#fff" opacity=".32"/>
<ellipse cx="458.1" cy="532.4" rx="3.6" ry="5.5" fill="#a9e0d9" transform="rotate(12 458.1 532.4)"/>
<ellipse cx="457.2" cy="530.4" rx="1.3" ry="1.9" fill="#fff" opacity=".32"/>
<ellipse cx="467.2" cy="535.0" rx="3.6" ry="5.5" fill="#a9e0d9" transform="rotate(12 467.2 535.0)"/>
<ellipse cx="466.3" cy="533.0" rx="1.3" ry="1.9" fill="#fff" opacity=".32"/>
<ellipse cx="476.2" cy="537.5" rx="3.6" ry="5.5" fill="#a9e0d9" transform="rotate(12 476.2 537.5)"/>
<ellipse cx="475.3" cy="535.5" rx="1.3" ry="1.9" fill="#fff" opacity=".32"/>
<ellipse cx="485.3" cy="540.1" rx="3.6" ry="5.5" fill="#a9e0d9" transform="rotate(12 485.3 540.1)"/>
<ellipse cx="484.4" cy="538.1" rx="1.3" ry="1.9" fill="#fff" opacity=".32"/>
<path d="M544.1,474.3 L575.2,480.1 L571.3,501 L541.2,494.6Z" fill="#93c463" stroke="#93c463" stroke-width="5" stroke-linejoin="round"/>
<path d="M544.6,471.8 L574.7,477.4 L571,497.6 L541.8,491.6Z" fill="#bce08e" stroke="#bce08e" stroke-width="5" stroke-linejoin="round"/>
<path d="M550,474.4 L570.3,478.7 L567.6,492.4 L547.2,487.4Z" fill="#a6d27c" stroke="#a6d27c" stroke-width="2.5" stroke-linejoin="round"/><circle cx="558.3" cy="479.4" r="1.2" fill="#5b7d3a"/>
<path d="M550.5,503 L560.5,524.5 L533.5,519.5 Z" fill="#ec8250" stroke="#ec8250" stroke-width="9" stroke-linejoin="round"/>
<path d="M550.5,500.5 L561,523 L533,518 Z" fill="none" stroke="#f29a68" stroke-width="2" stroke-linejoin="round" opacity=".6"/>
<path d="M549.8,508.5 L556,521.3 L538.6,518 Z" fill="#0d7fc3" stroke="#0d7fc3" stroke-width="1.5" stroke-linejoin="round"/>
<path d="M563.8,507.2 L585.2,513.4 L569,531 Z" fill="#f5ca93" stroke="#f5ca93" stroke-width="3" stroke-linejoin="round"/>
<path d="M586.3,513.8 L569.6,532 L568.8,536 L586.6,517.5Z" fill="#e4ae78" stroke="#e4ae78" stroke-width="1" stroke-linejoin="round"/>
<ellipse cx="538.3" cy="542.6" rx="17.9" ry="15.2" fill="#dd6549"/><ellipse cx="538.3" cy="541" rx="17.6" ry="14.2" fill="#e5745a"/>
<ellipse cx="538.3" cy="540" rx="12.2" ry="10.4" fill="#ef9c82"/><ellipse cx="538.3" cy="537.3" rx="12" ry="9.7" fill="#f7c0a8"/><circle cx="537.7" cy="535.8" r="1.2" fill="#8a5a3a"/>
<path d="M558.3,479.4 C565,481 571,484 575,486.5 C578,488 580,487.5 580.5,486 M573.5,510.5 C575,503 578,499 580.5,499.5 C583,500.5 580,506 577.5,509 M537.7,535.8 C542,541 548,547 552,546.5 C556,546 560,544.5 562,543.5" fill="none" stroke="#f6f1e8" stroke-width="1.2" stroke-linecap="round"/>
<path d="M377.2,541.9 Q381.4,538.7 385.6,541.9 Q381.4,545.1 377.2,541.9Z M386.2,541.9 L387.8,540.4 L387.8,543.4Z" fill="#6aace4" opacity="1"/>
<path d="M392.6,537.8 Q396.8,534.6 401.0,537.8 Q396.8,541.0 392.6,537.8Z M401.6,537.8 L403.1,536.3 L403.1,539.3Z" fill="#6aace4" opacity="1"/>
<path d="M394.8,547.0 Q398.9,543.8 403.1,547.0 Q398.9,550.2 394.8,547.0Z M403.7,547.0 L405.2,545.5 L405.2,548.5Z" fill="#6aace4" opacity="1"/>
<path d="M384.4,553.2 Q388.6,550.0 392.8,553.2 Q388.6,556.4 384.4,553.2Z M393.4,553.2 L394.9,551.7 L394.9,554.7Z" fill="#6aace4" opacity="1"/>
<path d="M413.2,549.1 Q417.4,545.9 421.6,549.1 Q417.4,552.3 413.2,549.1Z M422.2,549.1 L423.8,547.6 L423.8,550.6Z" fill="#6aace4" opacity="1"/>
<path d="M401.9,558.4 Q406.1,555.2 410.3,558.4 Q406.1,561.6 401.9,558.4Z M410.9,558.4 L412.4,556.9 L412.4,559.9Z" fill="#6aace4" opacity="1"/>
<path d="M421.6,558.4 Q425.8,555.2 429.9,558.4 Q425.8,561.6 421.6,558.4Z M430.5,558.4 L432.1,556.9 L432.1,559.9Z" fill="#6aace4" opacity="1"/>
<circle cx="591.3" cy="484.9" r="1.2" fill="#123f78"/>
<circle cx="570.4" cy="548" r="1.2" fill="#123f78"/>
<circle cx="585.9" cy="548.4" r="1.2" fill="#123f78"/>
</g>
</svg>
<div class="lbl" style="left:126.11px;top:105.8px;letter-spacing:0.23px">Beaded Track</div>
<div class="lbl" style="left:345.07px;top:144.7px;letter-spacing:0.34px">Shell Sliding Block</div>
<div class="lbl" style="left:570.62px;top:103.5px;letter-spacing:-0.17px">Classic Gear</div>
<div class="lbl" style="left:203.34px;top:572.2px;letter-spacing:0.29px">Four sound</div>
<div class="lbl" style="left:203.84px;top:594.2px;letter-spacing:0.47px">generating parts</div>
<div class="lbl" style="left:491.05px;top:571.7px;letter-spacing:-0.11px">Abacus &amp;</div>
<div class="lbl" style="left:490.96px;top:593.2px;letter-spacing:0.32px">Shap Matching</div>
</body></html>
